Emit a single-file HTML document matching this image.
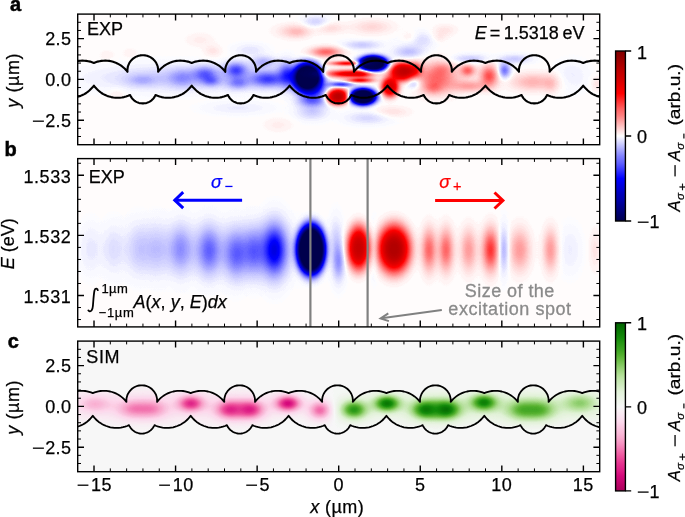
<!DOCTYPE html><html><head><meta charset="utf-8"><style>html,body{margin:0;padding:0;background:#fff;overflow:hidden}svg{display:block}text{font-family:"Liberation Sans",sans-serif}</style></head><body><svg width="685" height="517" viewBox="0 0 685 517"><defs><clipPath id="axa"><rect x="77.7" y="14.1" width="522" height="130.6"/></clipPath><clipPath id="axb"><rect x="77.7" y="158.6" width="522" height="168.3"/></clipPath><clipPath id="axc"><rect x="77.7" y="341.1" width="522" height="130.6"/></clipPath><clipPath id="wg"><polygon points="-102.9,393.1 -101.1,392.4 -99.2,391.8 -97.3,391.3 -95.4,391.0 -93.4,390.8 -91.4,390.8 -89.5,390.9 -87.5,391.1 -85.6,391.5 -83.7,392.0 -81.8,392.6 -80.0,393.4 -78.2,394.2 -76.5,395.2 -74.9,396.4 -73.4,397.6 -71.9,398.9 -70.6,400.4 -69.3,401.9 -69.4,400.2 -69.2,398.4 -68.9,396.7 -68.3,395.0 -67.6,393.4 -66.7,392.0 -65.6,390.6 -64.4,389.3 -63.0,388.2 -61.5,387.3 -60.0,386.5 -58.3,385.9 -56.6,385.5 -54.9,385.3 -53.1,385.3 -51.4,385.5 -49.7,385.9 -48.0,386.5 -46.5,387.3 -45.0,388.2 -43.6,389.3 -42.4,390.6 -41.3,392.0 -40.4,393.4 -39.7,395.0 -39.1,396.7 -38.8,398.4 -38.6,400.2 -38.7,401.9 -37.4,400.4 -36.1,398.9 -34.6,397.6 -33.1,396.4 -31.5,395.2 -29.8,394.2 -28.0,393.4 -26.2,392.6 -24.3,392.0 -22.4,391.5 -20.5,391.1 -18.5,390.9 -16.6,390.8 -14.6,390.8 -12.6,391.0 -10.7,391.3 -8.8,391.8 -6.9,392.4 -5.1,393.1 -3.2,392.4 -1.4,391.8 0.6,391.3 2.5,391.0 4.5,390.8 6.4,390.8 8.4,390.9 10.4,391.1 12.3,391.5 14.2,392.0 16.1,392.6 17.9,393.4 19.6,394.2 21.3,395.2 23.0,396.4 24.5,397.6 25.9,398.9 27.3,400.4 28.5,401.9 28.5,400.2 28.6,398.4 29.0,396.7 29.6,395.0 30.3,393.4 31.2,392.0 32.3,390.6 33.5,389.3 34.9,388.2 36.3,387.3 37.9,386.5 39.6,385.9 41.3,385.5 43.0,385.3 44.8,385.3 46.5,385.5 48.2,385.9 49.8,386.5 51.4,387.3 52.9,388.2 54.2,389.3 55.5,390.6 56.5,392.0 57.5,393.4 58.2,395.0 58.7,396.7 59.1,398.4 59.3,400.2 59.2,401.9 60.5,400.4 61.8,398.9 63.3,397.6 64.8,396.4 66.4,395.2 68.1,394.2 69.9,393.4 71.7,392.6 73.5,392.0 75.5,391.5 77.4,391.1 79.3,390.9 81.3,390.8 83.3,390.8 85.2,391.0 87.2,391.3 89.1,391.8 91.0,392.4 92.8,393.1 94.6,392.4 96.5,391.8 98.4,391.3 100.4,391.0 102.3,390.8 104.3,390.8 106.3,390.9 108.2,391.1 110.2,391.5 112.1,392.0 113.9,392.6 115.8,393.4 117.5,394.2 119.2,395.2 120.8,396.4 122.4,397.6 123.8,398.9 125.2,400.4 126.4,401.9 126.4,400.2 126.5,398.4 126.9,396.7 127.4,395.0 128.2,393.4 129.1,392.0 130.2,390.6 131.4,389.3 132.7,388.2 134.2,387.3 135.8,386.5 137.4,385.9 139.1,385.5 140.9,385.3 142.6,385.3 144.4,385.5 146.1,385.9 147.7,386.5 149.3,387.3 150.8,388.2 152.1,389.3 153.3,390.6 154.4,392.0 155.3,393.4 156.1,395.0 156.6,396.7 157.0,398.4 157.1,400.2 157.1,401.9 158.3,400.4 159.7,398.9 161.1,397.6 162.7,396.4 164.3,395.2 166.0,394.2 167.7,393.4 169.6,392.6 171.4,392.0 173.3,391.5 175.3,391.1 177.2,390.9 179.2,390.8 181.2,390.8 183.1,391.0 185.1,391.3 187.0,391.8 188.9,392.4 190.7,393.1 192.5,392.4 194.4,391.8 196.3,391.3 198.3,391.0 200.2,390.8 202.2,390.8 204.2,390.9 206.1,391.1 208.0,391.5 210.0,392.0 211.8,392.6 213.6,393.4 215.4,394.2 217.1,395.2 218.7,396.4 220.2,397.6 221.7,398.9 223.0,400.4 224.3,401.9 224.2,400.2 224.4,398.4 224.8,396.7 225.3,395.0 226.0,393.4 227.0,392.0 228.0,390.6 229.3,389.3 230.6,388.2 232.1,387.3 233.7,386.5 235.3,385.9 237.0,385.5 238.7,385.3 240.5,385.3 242.2,385.5 243.9,385.9 245.6,386.5 247.2,387.3 248.6,388.2 250.0,389.3 251.2,390.6 252.3,392.0 253.2,393.4 253.9,395.0 254.5,396.7 254.9,398.4 255.0,400.2 255.0,401.9 256.2,400.4 257.6,398.9 259.0,397.6 260.5,396.4 262.2,395.2 263.9,394.2 265.6,393.4 267.4,392.6 269.3,392.0 271.2,391.5 273.1,391.1 275.1,390.9 277.1,390.8 279.0,390.8 281.0,391.0 282.9,391.3 284.9,391.8 286.7,392.4 288.6,393.1 290.4,392.4 292.3,391.8 294.2,391.3 296.1,391.0 298.1,390.8 300.1,390.8 302.0,390.9 304.0,391.1 305.9,391.5 307.8,392.0 309.7,392.6 311.5,393.4 313.3,394.2 315.0,395.2 316.6,396.4 318.1,397.6 319.6,398.9 320.9,400.4 322.2,401.9 322.1,400.2 322.3,398.4 322.6,396.7 323.2,395.0 323.9,393.4 324.8,392.0 325.9,390.6 327.1,389.3 328.5,388.2 330.0,387.3 331.5,386.5 333.2,385.9 334.9,385.5 336.6,385.3 338.4,385.3 340.1,385.5 341.8,385.9 343.5,386.5 345.0,387.3 346.5,388.2 347.9,389.3 349.1,390.6 350.2,392.0 351.1,393.4 351.8,395.0 352.4,396.7 352.7,398.4 352.9,400.2 352.8,401.9 354.1,400.4 355.4,398.9 356.9,397.6 358.4,396.4 360.0,395.2 361.7,394.2 363.5,393.4 365.3,392.6 367.2,392.0 369.1,391.5 371.0,391.1 373.0,390.9 374.9,390.8 376.9,390.8 378.9,391.0 380.8,391.3 382.7,391.8 384.6,392.4 386.4,393.1 388.3,392.4 390.1,391.8 392.1,391.3 394.0,391.0 396.0,390.8 397.9,390.8 399.9,390.9 401.9,391.1 403.8,391.5 405.7,392.0 407.6,392.6 409.4,393.4 411.1,394.2 412.8,395.2 414.5,396.4 416.0,397.6 417.4,398.9 418.8,400.4 420.0,401.9 420.0,400.2 420.1,398.4 420.5,396.7 421.1,395.0 421.8,393.4 422.7,392.0 423.8,390.6 425.0,389.3 426.4,388.2 427.8,387.3 429.4,386.5 431.1,385.9 432.8,385.5 434.5,385.3 436.3,385.3 438.0,385.5 439.7,385.9 441.3,386.5 442.9,387.3 444.4,388.2 445.7,389.3 447.0,390.6 448.0,392.0 449.0,393.4 449.7,395.0 450.2,396.7 450.6,398.4 450.8,400.2 450.7,401.9 452.0,400.4 453.3,398.9 454.8,397.6 456.3,396.4 457.9,395.2 459.6,394.2 461.4,393.4 463.2,392.6 465.0,392.0 467.0,391.5 468.9,391.1 470.8,390.9 472.8,390.8 474.8,390.8 476.7,391.0 478.7,391.3 480.6,391.8 482.5,392.4 484.3,393.1 486.1,392.4 488.0,391.8 489.9,391.3 491.9,391.0 493.8,390.8 495.8,390.8 497.8,390.9 499.7,391.1 501.7,391.5 503.6,392.0 505.4,392.6 507.3,393.4 509.0,394.2 510.7,395.2 512.3,396.4 513.9,397.6 515.3,398.9 516.7,400.4 517.9,401.9 517.9,400.2 518.0,398.4 518.4,396.7 518.9,395.0 519.7,393.4 520.6,392.0 521.7,390.6 522.9,389.3 524.2,388.2 525.7,387.3 527.3,386.5 528.9,385.9 530.6,385.5 532.4,385.3 534.1,385.3 535.9,385.5 537.6,385.9 539.2,386.5 540.8,387.3 542.3,388.2 543.6,389.3 544.8,390.6 545.9,392.0 546.8,393.4 547.6,395.0 548.1,396.7 548.5,398.4 548.6,400.2 548.6,401.9 549.8,400.4 551.2,398.9 552.6,397.6 554.2,396.4 555.8,395.2 557.5,394.2 559.2,393.4 561.1,392.6 562.9,392.0 564.8,391.5 566.8,391.1 568.7,390.9 570.7,390.8 572.7,390.8 574.6,391.0 576.6,391.3 578.5,391.8 580.4,392.4 582.2,393.1 584.0,392.4 585.9,391.8 587.8,391.3 589.8,391.0 591.7,390.8 593.7,390.8 595.7,390.9 597.6,391.1 599.5,391.5 601.5,392.0 603.3,392.6 605.1,393.4 606.9,394.2 608.6,395.2 610.2,396.4 611.7,397.6 613.2,398.9 614.5,400.4 615.8,401.9 615.7,400.2 615.9,398.4 616.3,396.7 616.8,395.0 617.5,393.4 618.5,392.0 619.5,390.6 620.8,389.3 622.1,388.2 623.6,387.3 625.2,386.5 626.8,385.9 628.5,385.5 630.2,385.3 632.0,385.3 633.7,385.5 635.4,385.9 637.1,386.5 638.7,387.3 640.1,388.2 641.5,389.3 642.7,390.6 643.8,392.0 644.7,393.4 645.4,395.0 646.0,396.7 646.4,398.4 646.5,400.2 646.5,401.9 647.7,400.4 649.1,398.9 650.5,397.6 652.0,396.4 653.7,395.2 655.4,394.2 657.1,393.4 658.9,392.6 660.8,392.0 662.7,391.5 664.6,391.1 666.6,390.9 668.6,390.8 670.5,390.8 672.5,391.0 674.4,391.3 676.4,391.8 678.2,392.4 680.1,393.1 681.9,392.4 683.8,391.8 685.7,391.3 687.6,391.0 689.6,390.8 691.6,390.8 693.5,390.9 695.5,391.1 697.4,391.5 699.3,392.0 701.2,392.6 703.0,393.4 704.8,394.2 706.5,395.2 708.1,396.4 709.6,397.6 711.1,398.9 712.4,400.4 713.7,401.9 713.6,400.2 713.8,398.4 714.1,396.7 714.7,395.0 715.4,393.4 716.3,392.0 717.4,390.6 718.6,389.3 720.0,388.2 721.5,387.3 723.0,386.5 724.7,385.9 726.4,385.5 728.1,385.3 729.9,385.3 731.6,385.5 733.3,385.9 735.0,386.5 736.5,387.3 738.0,388.2 739.4,389.3 740.6,390.6 741.7,392.0 742.6,393.4 743.3,395.0 743.9,396.7 744.2,398.4 744.4,400.2 744.3,401.9 745.6,400.4 746.9,398.9 748.4,397.6 749.9,396.4 751.5,395.2 753.2,394.2 755.0,393.4 756.8,392.6 758.7,392.0 760.6,391.5 762.5,391.1 764.5,390.9 766.4,390.8 768.4,390.8 770.4,391.0 772.3,391.3 774.2,391.8 776.1,392.4 777.9,393.1 777.9,415.7 776.6,417.4 775.2,419.0 773.7,420.5 772.0,421.9 770.3,423.1 768.5,424.2 766.6,425.2 764.6,426.0 762.6,426.7 760.5,427.3 758.4,427.6 756.3,427.9 754.1,427.9 752.0,427.9 749.9,427.6 747.8,427.2 745.7,426.7 743.7,426.0 741.7,425.1 741.2,426.1 740.7,427.1 740.1,428.0 739.4,428.9 738.6,429.7 737.8,430.4 736.9,431.1 735.9,431.7 734.9,432.2 733.9,432.7 732.9,433.0 731.8,433.3 730.7,433.5 729.6,433.6 728.4,433.6 727.3,433.5 726.2,433.3 725.1,433.0 724.1,432.7 723.1,432.2 722.1,431.7 721.1,431.1 720.2,430.4 719.4,429.7 718.6,428.9 717.9,428.0 717.3,427.1 716.8,426.1 716.3,425.1 714.3,426.0 712.3,426.7 710.2,427.2 708.1,427.6 706.0,427.9 703.9,427.9 701.7,427.9 699.6,427.6 697.5,427.3 695.4,426.7 693.4,426.0 691.4,425.2 689.5,424.2 687.7,423.1 686.0,421.9 684.3,420.5 682.8,419.0 681.4,417.4 680.1,415.7 678.8,417.4 677.3,419.0 675.8,420.5 674.2,421.9 672.4,423.1 670.6,424.2 668.7,425.2 666.7,426.0 664.7,426.7 662.6,427.3 660.5,427.6 658.4,427.9 656.2,427.9 654.1,427.9 652.0,427.6 649.9,427.2 647.8,426.7 645.8,426.0 643.8,425.1 643.4,426.1 642.8,427.1 642.2,428.0 641.5,428.9 640.7,429.7 639.9,430.4 639.0,431.1 638.1,431.7 637.1,432.2 636.0,432.7 635.0,433.0 633.9,433.3 632.8,433.5 631.7,433.6 630.6,433.6 629.5,433.5 628.4,433.3 627.3,433.0 626.2,432.7 625.2,432.2 624.2,431.7 623.3,431.1 622.4,430.4 621.5,429.7 620.8,428.9 620.1,428.0 619.4,427.1 618.9,426.1 618.4,425.1 616.5,426.0 614.4,426.7 612.4,427.2 610.3,427.6 608.1,427.9 606.0,427.9 603.9,427.9 601.7,427.6 599.6,427.3 597.6,426.7 595.5,426.0 593.6,425.2 591.7,424.2 589.8,423.1 588.1,421.9 586.5,420.5 584.9,419.0 583.5,417.4 582.2,415.7 580.9,417.4 579.5,419.0 577.9,420.5 576.3,421.9 574.5,423.1 572.7,424.2 570.8,425.2 568.8,426.0 566.8,426.7 564.7,427.3 562.6,427.6 560.5,427.9 558.4,427.9 556.2,427.9 554.1,427.6 552.0,427.2 549.9,426.7 547.9,426.0 546.0,425.1 545.5,426.1 544.9,427.1 544.3,428.0 543.6,428.9 542.8,429.7 542.0,430.4 541.1,431.1 540.2,431.7 539.2,432.2 538.2,432.7 537.1,433.0 536.0,433.3 534.9,433.5 533.8,433.6 532.7,433.6 531.6,433.5 530.5,433.3 529.4,433.0 528.3,432.7 527.3,432.2 526.3,431.7 525.4,431.1 524.5,430.4 523.7,429.7 522.9,428.9 522.2,428.0 521.6,427.1 521.0,426.1 520.5,425.1 518.6,426.0 516.6,426.7 514.5,427.2 512.4,427.6 510.3,427.9 508.1,427.9 506.0,427.9 503.9,427.6 501.8,427.3 499.7,426.7 497.7,426.0 495.7,425.2 493.8,424.2 492.0,423.1 490.2,421.9 488.6,420.5 487.0,419.0 485.6,417.4 484.3,415.7 483.0,417.4 481.6,419.0 480.0,420.5 478.4,421.9 476.7,423.1 474.8,424.2 472.9,425.2 471.0,426.0 468.9,426.7 466.9,427.3 464.8,427.6 462.6,427.9 460.5,427.9 458.4,427.9 456.2,427.6 454.1,427.2 452.1,426.7 450.0,426.0 448.1,425.1 447.6,426.1 447.1,427.1 446.4,428.0 445.7,428.9 445.0,429.7 444.1,430.4 443.2,431.1 442.3,431.7 441.3,432.2 440.3,432.7 439.2,433.0 438.1,433.3 437.0,433.5 435.9,433.6 434.8,433.6 433.7,433.5 432.6,433.3 431.5,433.0 430.5,432.7 429.4,432.2 428.4,431.7 427.5,431.1 426.6,430.4 425.8,429.7 425.0,428.9 424.3,428.0 423.7,427.1 423.1,426.1 422.7,425.1 420.7,426.0 418.7,426.7 416.6,427.2 414.5,427.6 412.4,427.9 410.3,427.9 408.1,427.9 406.0,427.6 403.9,427.3 401.8,426.7 399.8,426.0 397.8,425.2 395.9,424.2 394.1,423.1 392.3,421.9 390.7,420.5 389.2,419.0 387.7,417.4 386.4,415.7 385.1,417.4 383.7,419.0 382.2,420.5 380.5,421.9 378.8,423.1 377.0,424.2 375.1,425.2 373.1,426.0 371.1,426.7 369.0,427.3 366.9,427.6 364.8,427.9 362.6,427.9 360.5,427.9 358.4,427.6 356.3,427.2 354.2,426.7 352.2,426.0 350.2,425.1 349.7,426.1 349.2,427.1 348.6,428.0 347.9,428.9 347.1,429.7 346.3,430.4 345.4,431.1 344.4,431.7 343.4,432.2 342.4,432.7 341.4,433.0 340.3,433.3 339.2,433.5 338.1,433.6 336.9,433.6 335.8,433.5 334.7,433.3 333.6,433.0 332.6,432.7 331.6,432.2 330.6,431.7 329.6,431.1 328.7,430.4 327.9,429.7 327.1,428.9 326.4,428.0 325.8,427.1 325.3,426.1 324.8,425.1 322.8,426.0 320.8,426.7 318.7,427.2 316.6,427.6 314.5,427.9 312.4,427.9 310.2,427.9 308.1,427.6 306.0,427.3 303.9,426.7 301.9,426.0 299.9,425.2 298.0,424.2 296.2,423.1 294.5,421.9 292.8,420.5 291.3,419.0 289.9,417.4 288.6,415.7 287.3,417.4 285.8,419.0 284.3,420.5 282.7,421.9 280.9,423.1 279.1,424.2 277.2,425.2 275.2,426.0 273.2,426.7 271.1,427.3 269.0,427.6 266.9,427.9 264.7,427.9 262.6,427.9 260.5,427.6 258.4,427.2 256.3,426.7 254.3,426.0 252.3,425.1 251.9,426.1 251.3,427.1 250.7,428.0 250.0,428.9 249.2,429.7 248.4,430.4 247.5,431.1 246.6,431.7 245.6,432.2 244.5,432.7 243.5,433.0 242.4,433.3 241.3,433.5 240.2,433.6 239.1,433.6 238.0,433.5 236.9,433.3 235.8,433.0 234.7,432.7 233.7,432.2 232.7,431.7 231.8,431.1 230.9,430.4 230.0,429.7 229.3,428.9 228.6,428.0 227.9,427.1 227.4,426.1 226.9,425.1 225.0,426.0 222.9,426.7 220.9,427.2 218.8,427.6 216.6,427.9 214.5,427.9 212.4,427.9 210.2,427.6 208.1,427.3 206.1,426.7 204.0,426.0 202.1,425.2 200.2,424.2 198.3,423.1 196.6,421.9 195.0,420.5 193.4,419.0 192.0,417.4 190.7,415.7 189.4,417.4 188.0,419.0 186.4,420.5 184.8,421.9 183.0,423.1 181.2,424.2 179.3,425.2 177.3,426.0 175.3,426.7 173.2,427.3 171.1,427.6 169.0,427.9 166.9,427.9 164.7,427.9 162.6,427.6 160.5,427.2 158.4,426.7 156.4,426.0 154.5,425.1 154.0,426.1 153.4,427.1 152.8,428.0 152.1,428.9 151.3,429.7 150.5,430.4 149.6,431.1 148.7,431.7 147.7,432.2 146.7,432.7 145.6,433.0 144.5,433.3 143.4,433.5 142.3,433.6 141.2,433.6 140.1,433.5 139.0,433.3 137.9,433.0 136.8,432.7 135.8,432.2 134.8,431.7 133.9,431.1 133.0,430.4 132.2,429.7 131.4,428.9 130.7,428.0 130.1,427.1 129.5,426.1 129.0,425.1 127.1,426.0 125.1,426.7 123.0,427.2 120.9,427.6 118.8,427.9 116.6,427.9 114.5,427.9 112.4,427.6 110.3,427.3 108.2,426.7 106.2,426.0 104.2,425.2 102.3,424.2 100.5,423.1 98.7,421.9 97.1,420.5 95.5,419.0 94.1,417.4 92.8,415.7 91.5,417.4 90.1,419.0 88.5,420.5 86.9,421.9 85.2,423.1 83.3,424.2 81.4,425.2 79.5,426.0 77.4,426.7 75.4,427.3 73.3,427.6 71.1,427.9 69.0,427.9 66.9,427.9 64.7,427.6 62.6,427.2 60.6,426.7 58.5,426.0 56.6,425.1 56.1,426.1 55.6,427.1 54.9,428.0 54.2,428.9 53.5,429.7 52.6,430.4 51.7,431.1 50.8,431.7 49.8,432.2 48.8,432.7 47.7,433.0 46.6,433.3 45.5,433.5 44.4,433.6 43.3,433.6 42.2,433.5 41.1,433.3 40.0,433.0 39.0,432.7 37.9,432.2 36.9,431.7 36.0,431.1 35.1,430.4 34.3,429.7 33.5,428.9 32.8,428.0 32.2,427.1 31.6,426.1 31.2,425.1 29.2,426.0 27.2,426.7 25.1,427.2 23.0,427.6 20.9,427.9 18.8,427.9 16.6,427.9 14.5,427.6 12.4,427.3 10.3,426.7 8.3,426.0 6.3,425.2 4.4,424.2 2.6,423.1 0.8,421.9 -0.8,420.5 -2.3,419.0 -3.8,417.4 -5.1,415.7 -6.4,417.4 -7.8,419.0 -9.3,420.5 -11.0,421.9 -12.7,423.1 -14.5,424.2 -16.4,425.2 -18.4,426.0 -20.4,426.7 -22.5,427.3 -24.6,427.6 -26.7,427.9 -28.9,427.9 -31.0,427.9 -33.1,427.6 -35.2,427.2 -37.3,426.7 -39.3,426.0 -41.3,425.1 -41.8,426.1 -42.3,427.1 -42.9,428.0 -43.6,428.9 -44.4,429.7 -45.2,430.4 -46.1,431.1 -47.1,431.7 -48.1,432.2 -49.1,432.7 -50.1,433.0 -51.2,433.3 -52.3,433.5 -53.4,433.6 -54.6,433.6 -55.7,433.5 -56.8,433.3 -57.9,433.0 -58.9,432.7 -59.9,432.2 -60.9,431.7 -61.9,431.1 -62.8,430.4 -63.6,429.7 -64.4,428.9 -65.1,428.0 -65.7,427.1 -66.2,426.1 -66.7,425.1 -68.7,426.0 -70.7,426.7 -72.8,427.2 -74.9,427.6 -77.0,427.9 -79.1,427.9 -81.3,427.9 -83.4,427.6 -85.5,427.3 -87.6,426.7 -89.6,426.0 -91.6,425.2 -93.5,424.2 -95.3,423.1 -97.0,421.9 -98.7,420.5 -100.2,419.0 -101.6,417.4 -102.9,415.7"/></clipPath><filter id="fa" filterUnits="userSpaceOnUse" x="77.7" y="14.1" width="522" height="130.6" color-interpolation-filters="sRGB"><feColorMatrix type="matrix" values="0.5 0 -0.5 0 0.5 0.5 0 -0.5 0 0.5 0.5 0 -0.5 0 0.5 0 0 0 0 1"/><feComponentTransfer><feFuncR type="table" tableValues="0 0 0 0 0 0 0 0 0 0 0 0 0 0 0 0 0 0 0 0 0 0 0 0 0 0 0 0 0 0 0 0 0 0 0 0 0 0 0 0 0 0 0 0 0 0 0 0 0 0 0 0 0 0 0 0 0 0 0 0 0 0 0 0 0 0.02 0.04 0.05 0.07 0.08 0.1 0.11 0.13 0.15 0.16 0.18 0.19 0.21 0.22 0.24 0.25 0.27 0.29 0.3 0.32 0.33 0.35 0.36 0.38 0.4 0.41 0.43 0.44 0.46 0.47 0.49 0.51 0.52 0.54 0.55 0.57 0.58 0.6 0.62 0.63 0.65 0.66 0.68 0.69 0.71 0.73 0.74 0.76 0.77 0.79 0.8 0.82 0.84 0.85 0.87 0.88 0.9 0.91 0.93 0.95 0.96 0.98 0.99 1 1 1 1 1 1 1 1 1 1 1 1 1 1 1 1 1 1 1 1 1 1 1 1 1 1 1 1 1 1 1 1 1 1 1 1 1 1 1 1 1 1 1 1 1 1 1 1 1 1 1 1 1 1 1 1 1 1 1 1 1 1 1 1 0.99 0.99 0.98 0.97 0.96 0.95 0.95 0.94 0.93 0.92 0.92 0.91 0.9 0.89 0.88 0.88 0.87 0.86 0.85 0.85 0.84 0.83 0.82 0.81 0.81 0.8 0.79 0.78 0.77 0.77 0.76 0.75 0.74 0.74 0.73 0.72 0.71 0.7 0.7 0.69 0.68 0.67 0.66 0.66 0.65 0.64 0.63 0.63 0.62 0.61 0.6 0.59 0.59 0.58 0.57 0.56 0.55 0.55 0.54 0.53 0.52 0.52 0.51 0.5"/><feFuncG type="table" tableValues="0 0 0 0 0 0 0 0 0 0 0 0 0 0 0 0 0 0 0 0 0 0 0 0 0 0 0 0 0 0 0 0 0 0 0 0 0 0 0 0 0 0 0 0 0 0 0 0 0 0 0 0 0 0 0 0 0 0 0 0 0 0 0 0 0 0.02 0.04 0.05 0.07 0.08 0.1 0.11 0.13 0.15 0.16 0.18 0.19 0.21 0.22 0.24 0.25 0.27 0.29 0.3 0.32 0.33 0.35 0.36 0.38 0.4 0.41 0.43 0.44 0.46 0.47 0.49 0.51 0.52 0.54 0.55 0.57 0.58 0.6 0.62 0.63 0.65 0.66 0.68 0.69 0.71 0.73 0.74 0.76 0.77 0.79 0.8 0.82 0.84 0.85 0.87 0.88 0.9 0.91 0.93 0.95 0.96 0.98 0.99 0.99 0.98 0.96 0.95 0.93 0.91 0.9 0.88 0.87 0.85 0.84 0.82 0.8 0.79 0.77 0.76 0.74 0.73 0.71 0.69 0.68 0.66 0.65 0.63 0.62 0.6 0.58 0.57 0.55 0.54 0.52 0.51 0.49 0.47 0.46 0.44 0.43 0.41 0.4 0.38 0.36 0.35 0.33 0.32 0.3 0.29 0.27 0.25 0.24 0.22 0.21 0.19 0.18 0.16 0.15 0.13 0.11 0.1 0.08 0.07 0.05 0.04 0.02 0 0 0 0 0 0 0 0 0 0 0 0 0 0 0 0 0 0 0 0 0 0 0 0 0 0 0 0 0 0 0 0 0 0 0 0 0 0 0 0 0 0 0 0 0 0 0 0 0 0 0 0 0 0 0 0 0 0 0 0 0 0 0 0 0"/><feFuncB type="table" tableValues="0.3 0.31 0.32 0.33 0.34 0.35 0.37 0.38 0.39 0.4 0.41 0.42 0.43 0.44 0.45 0.46 0.48 0.49 0.5 0.51 0.52 0.53 0.54 0.55 0.56 0.57 0.59 0.6 0.61 0.62 0.63 0.64 0.65 0.66 0.67 0.68 0.7 0.71 0.72 0.73 0.74 0.75 0.76 0.77 0.78 0.79 0.81 0.82 0.83 0.84 0.85 0.86 0.87 0.88 0.89 0.9 0.91 0.93 0.94 0.95 0.96 0.97 0.98 0.99 1 1 1 1 1 1 1 1 1 1 1 1 1 1 1 1 1 1 1 1 1 1 1 1 1 1 1 1 1 1 1 1 1 1 1 1 1 1 1 1 1 1 1 1 1 1 1 1 1 1 1 1 1 1 1 1 1 1 1 1 1 1 1 1 0.99 0.98 0.96 0.95 0.93 0.91 0.9 0.88 0.87 0.85 0.84 0.82 0.8 0.79 0.77 0.76 0.74 0.73 0.71 0.69 0.68 0.66 0.65 0.63 0.62 0.6 0.58 0.57 0.55 0.54 0.52 0.51 0.49 0.47 0.46 0.44 0.43 0.41 0.4 0.38 0.36 0.35 0.33 0.32 0.3 0.29 0.27 0.25 0.24 0.22 0.21 0.19 0.18 0.16 0.15 0.13 0.11 0.1 0.08 0.07 0.05 0.04 0.02 0 0 0 0 0 0 0 0 0 0 0 0 0 0 0 0 0 0 0 0 0 0 0 0 0 0 0 0 0 0 0 0 0 0 0 0 0 0 0 0 0 0 0 0 0 0 0 0 0 0 0 0 0 0 0 0 0 0 0 0 0 0 0 0 0"/></feComponentTransfer></filter><radialGradient id="g0"><stop offset="0.000" stop-color="#00f" stop-opacity="1.000"/><stop offset="0.036" stop-color="#00f" stop-opacity="0.993"/><stop offset="0.071" stop-color="#00f" stop-opacity="0.972"/><stop offset="0.107" stop-color="#00f" stop-opacity="0.939"/><stop offset="0.143" stop-color="#00f" stop-opacity="0.893"/><stop offset="0.179" stop-color="#00f" stop-opacity="0.839"/><stop offset="0.214" stop-color="#00f" stop-opacity="0.776"/><stop offset="0.250" stop-color="#00f" stop-opacity="0.708"/><stop offset="0.286" stop-color="#00f" stop-opacity="0.637"/><stop offset="0.321" stop-color="#00f" stop-opacity="0.565"/><stop offset="0.357" stop-color="#00f" stop-opacity="0.494"/><stop offset="0.393" stop-color="#00f" stop-opacity="0.426"/><stop offset="0.429" stop-color="#00f" stop-opacity="0.363"/><stop offset="0.464" stop-color="#00f" stop-opacity="0.304"/><stop offset="0.500" stop-color="#00f" stop-opacity="0.251"/><stop offset="0.536" stop-color="#00f" stop-opacity="0.205"/><stop offset="0.571" stop-color="#00f" stop-opacity="0.165"/><stop offset="0.607" stop-color="#00f" stop-opacity="0.131"/><stop offset="0.643" stop-color="#00f" stop-opacity="0.102"/><stop offset="0.679" stop-color="#00f" stop-opacity="0.079"/><stop offset="0.714" stop-color="#00f" stop-opacity="0.060"/><stop offset="0.750" stop-color="#00f" stop-opacity="0.045"/><stop offset="0.786" stop-color="#00f" stop-opacity="0.033"/><stop offset="0.821" stop-color="#00f" stop-opacity="0.024"/><stop offset="0.857" stop-color="#00f" stop-opacity="0.017"/><stop offset="0.893" stop-color="#00f" stop-opacity="0.012"/><stop offset="0.929" stop-color="#00f" stop-opacity="0.009"/><stop offset="0.964" stop-color="#00f" stop-opacity="0.006"/><stop offset="1.000" stop-color="#00f" stop-opacity="0.004"/></radialGradient><radialGradient id="g1"><stop offset="0.000" stop-color="#00f" stop-opacity="1.000"/><stop offset="0.036" stop-color="#00f" stop-opacity="1.000"/><stop offset="0.071" stop-color="#00f" stop-opacity="1.000"/><stop offset="0.107" stop-color="#00f" stop-opacity="1.000"/><stop offset="0.143" stop-color="#00f" stop-opacity="1.000"/><stop offset="0.179" stop-color="#00f" stop-opacity="1.000"/><stop offset="0.214" stop-color="#00f" stop-opacity="1.000"/><stop offset="0.250" stop-color="#00f" stop-opacity="1.000"/><stop offset="0.286" stop-color="#00f" stop-opacity="1.000"/><stop offset="0.321" stop-color="#00f" stop-opacity="1.000"/><stop offset="0.357" stop-color="#00f" stop-opacity="1.000"/><stop offset="0.393" stop-color="#00f" stop-opacity="1.000"/><stop offset="0.429" stop-color="#00f" stop-opacity="0.998"/><stop offset="0.464" stop-color="#00f" stop-opacity="0.878"/><stop offset="0.500" stop-color="#00f" stop-opacity="0.757"/><stop offset="0.536" stop-color="#00f" stop-opacity="0.637"/><stop offset="0.571" stop-color="#00f" stop-opacity="0.523"/><stop offset="0.607" stop-color="#00f" stop-opacity="0.419"/><stop offset="0.643" stop-color="#00f" stop-opacity="0.326"/><stop offset="0.679" stop-color="#00f" stop-opacity="0.246"/><stop offset="0.714" stop-color="#00f" stop-opacity="0.180"/><stop offset="0.750" stop-color="#00f" stop-opacity="0.128"/><stop offset="0.786" stop-color="#00f" stop-opacity="0.087"/><stop offset="0.821" stop-color="#00f" stop-opacity="0.058"/><stop offset="0.857" stop-color="#00f" stop-opacity="0.037"/><stop offset="0.893" stop-color="#00f" stop-opacity="0.022"/><stop offset="0.929" stop-color="#00f" stop-opacity="0.013"/><stop offset="0.964" stop-color="#00f" stop-opacity="0.007"/><stop offset="1.000" stop-color="#00f" stop-opacity="0.004"/></radialGradient><radialGradient id="g2"><stop offset="0.000" stop-color="#f00" stop-opacity="1.000"/><stop offset="0.036" stop-color="#f00" stop-opacity="0.993"/><stop offset="0.071" stop-color="#f00" stop-opacity="0.972"/><stop offset="0.107" stop-color="#f00" stop-opacity="0.939"/><stop offset="0.143" stop-color="#f00" stop-opacity="0.893"/><stop offset="0.179" stop-color="#f00" stop-opacity="0.839"/><stop offset="0.214" stop-color="#f00" stop-opacity="0.776"/><stop offset="0.250" stop-color="#f00" stop-opacity="0.708"/><stop offset="0.286" stop-color="#f00" stop-opacity="0.637"/><stop offset="0.321" stop-color="#f00" stop-opacity="0.565"/><stop offset="0.357" stop-color="#f00" stop-opacity="0.494"/><stop offset="0.393" stop-color="#f00" stop-opacity="0.426"/><stop offset="0.429" stop-color="#f00" stop-opacity="0.363"/><stop offset="0.464" stop-color="#f00" stop-opacity="0.304"/><stop offset="0.500" stop-color="#f00" stop-opacity="0.251"/><stop offset="0.536" stop-color="#f00" stop-opacity="0.205"/><stop offset="0.571" stop-color="#f00" stop-opacity="0.165"/><stop offset="0.607" stop-color="#f00" stop-opacity="0.131"/><stop offset="0.643" stop-color="#f00" stop-opacity="0.102"/><stop offset="0.679" stop-color="#f00" stop-opacity="0.079"/><stop offset="0.714" stop-color="#f00" stop-opacity="0.060"/><stop offset="0.750" stop-color="#f00" stop-opacity="0.045"/><stop offset="0.786" stop-color="#f00" stop-opacity="0.033"/><stop offset="0.821" stop-color="#f00" stop-opacity="0.024"/><stop offset="0.857" stop-color="#f00" stop-opacity="0.017"/><stop offset="0.893" stop-color="#f00" stop-opacity="0.012"/><stop offset="0.929" stop-color="#f00" stop-opacity="0.009"/><stop offset="0.964" stop-color="#f00" stop-opacity="0.006"/><stop offset="1.000" stop-color="#f00" stop-opacity="0.004"/></radialGradient><radialGradient id="g3"><stop offset="0.000" stop-color="#00f" stop-opacity="1.000"/><stop offset="0.036" stop-color="#00f" stop-opacity="1.000"/><stop offset="0.071" stop-color="#00f" stop-opacity="1.000"/><stop offset="0.107" stop-color="#00f" stop-opacity="1.000"/><stop offset="0.143" stop-color="#00f" stop-opacity="1.000"/><stop offset="0.179" stop-color="#00f" stop-opacity="1.000"/><stop offset="0.214" stop-color="#00f" stop-opacity="1.000"/><stop offset="0.250" stop-color="#00f" stop-opacity="1.000"/><stop offset="0.286" stop-color="#00f" stop-opacity="1.000"/><stop offset="0.321" stop-color="#00f" stop-opacity="1.000"/><stop offset="0.357" stop-color="#00f" stop-opacity="1.000"/><stop offset="0.393" stop-color="#00f" stop-opacity="1.000"/><stop offset="0.429" stop-color="#00f" stop-opacity="0.941"/><stop offset="0.464" stop-color="#00f" stop-opacity="0.829"/><stop offset="0.500" stop-color="#00f" stop-opacity="0.715"/><stop offset="0.536" stop-color="#00f" stop-opacity="0.603"/><stop offset="0.571" stop-color="#00f" stop-opacity="0.496"/><stop offset="0.607" stop-color="#00f" stop-opacity="0.398"/><stop offset="0.643" stop-color="#00f" stop-opacity="0.311"/><stop offset="0.679" stop-color="#00f" stop-opacity="0.235"/><stop offset="0.714" stop-color="#00f" stop-opacity="0.173"/><stop offset="0.750" stop-color="#00f" stop-opacity="0.123"/><stop offset="0.786" stop-color="#00f" stop-opacity="0.085"/><stop offset="0.821" stop-color="#00f" stop-opacity="0.056"/><stop offset="0.857" stop-color="#00f" stop-opacity="0.036"/><stop offset="0.893" stop-color="#00f" stop-opacity="0.022"/><stop offset="0.929" stop-color="#00f" stop-opacity="0.013"/><stop offset="0.964" stop-color="#00f" stop-opacity="0.007"/><stop offset="1.000" stop-color="#00f" stop-opacity="0.004"/></radialGradient><radialGradient id="g4"><stop offset="0.000" stop-color="#f00" stop-opacity="1.000"/><stop offset="0.036" stop-color="#f00" stop-opacity="1.000"/><stop offset="0.071" stop-color="#f00" stop-opacity="0.998"/><stop offset="0.107" stop-color="#f00" stop-opacity="0.993"/><stop offset="0.143" stop-color="#f00" stop-opacity="0.984"/><stop offset="0.179" stop-color="#f00" stop-opacity="0.969"/><stop offset="0.214" stop-color="#f00" stop-opacity="0.947"/><stop offset="0.250" stop-color="#f00" stop-opacity="0.917"/><stop offset="0.286" stop-color="#f00" stop-opacity="0.879"/><stop offset="0.321" stop-color="#f00" stop-opacity="0.832"/><stop offset="0.357" stop-color="#f00" stop-opacity="0.778"/><stop offset="0.393" stop-color="#f00" stop-opacity="0.715"/><stop offset="0.429" stop-color="#f00" stop-opacity="0.648"/><stop offset="0.464" stop-color="#f00" stop-opacity="0.575"/><stop offset="0.500" stop-color="#f00" stop-opacity="0.501"/><stop offset="0.536" stop-color="#f00" stop-opacity="0.428"/><stop offset="0.571" stop-color="#f00" stop-opacity="0.357"/><stop offset="0.607" stop-color="#f00" stop-opacity="0.291"/><stop offset="0.643" stop-color="#f00" stop-opacity="0.231"/><stop offset="0.679" stop-color="#f00" stop-opacity="0.178"/><stop offset="0.714" stop-color="#f00" stop-opacity="0.134"/><stop offset="0.750" stop-color="#f00" stop-opacity="0.097"/><stop offset="0.786" stop-color="#f00" stop-opacity="0.069"/><stop offset="0.821" stop-color="#f00" stop-opacity="0.047"/><stop offset="0.857" stop-color="#f00" stop-opacity="0.031"/><stop offset="0.893" stop-color="#f00" stop-opacity="0.020"/><stop offset="0.929" stop-color="#f00" stop-opacity="0.012"/><stop offset="0.964" stop-color="#f00" stop-opacity="0.007"/><stop offset="1.000" stop-color="#f00" stop-opacity="0.004"/></radialGradient><filter id="fb" filterUnits="userSpaceOnUse" x="77.7" y="158.6" width="522" height="168.3" color-interpolation-filters="sRGB"><feColorMatrix type="matrix" values="0.5 0 -0.5 0 0.5 0.5 0 -0.5 0 0.5 0.5 0 -0.5 0 0.5 0 0 0 0 1"/><feComponentTransfer><feFuncR type="table" tableValues="0 0 0 0 0 0 0 0 0 0 0 0 0 0 0 0 0 0 0 0 0 0 0 0 0 0 0 0 0 0 0 0 0 0 0 0 0 0 0 0 0 0 0 0 0 0 0 0 0 0 0 0 0 0 0 0 0 0 0 0 0 0 0 0 0 0.02 0.04 0.05 0.07 0.08 0.1 0.11 0.13 0.15 0.16 0.18 0.19 0.21 0.22 0.24 0.25 0.27 0.29 0.3 0.32 0.33 0.35 0.36 0.38 0.4 0.41 0.43 0.44 0.46 0.47 0.49 0.51 0.52 0.54 0.55 0.57 0.58 0.6 0.62 0.63 0.65 0.66 0.68 0.69 0.71 0.73 0.74 0.76 0.77 0.79 0.8 0.82 0.84 0.85 0.87 0.88 0.9 0.91 0.93 0.95 0.96 0.98 0.99 1 1 1 1 1 1 1 1 1 1 1 1 1 1 1 1 1 1 1 1 1 1 1 1 1 1 1 1 1 1 1 1 1 1 1 1 1 1 1 1 1 1 1 1 1 1 1 1 1 1 1 1 1 1 1 1 1 1 1 1 1 1 1 1 0.99 0.99 0.98 0.97 0.96 0.95 0.95 0.94 0.93 0.92 0.92 0.91 0.9 0.89 0.88 0.88 0.87 0.86 0.85 0.85 0.84 0.83 0.82 0.81 0.81 0.8 0.79 0.78 0.77 0.77 0.76 0.75 0.74 0.74 0.73 0.72 0.71 0.7 0.7 0.69 0.68 0.67 0.66 0.66 0.65 0.64 0.63 0.63 0.62 0.61 0.6 0.59 0.59 0.58 0.57 0.56 0.55 0.55 0.54 0.53 0.52 0.52 0.51 0.5"/><feFuncG type="table" tableValues="0 0 0 0 0 0 0 0 0 0 0 0 0 0 0 0 0 0 0 0 0 0 0 0 0 0 0 0 0 0 0 0 0 0 0 0 0 0 0 0 0 0 0 0 0 0 0 0 0 0 0 0 0 0 0 0 0 0 0 0 0 0 0 0 0 0.02 0.04 0.05 0.07 0.08 0.1 0.11 0.13 0.15 0.16 0.18 0.19 0.21 0.22 0.24 0.25 0.27 0.29 0.3 0.32 0.33 0.35 0.36 0.38 0.4 0.41 0.43 0.44 0.46 0.47 0.49 0.51 0.52 0.54 0.55 0.57 0.58 0.6 0.62 0.63 0.65 0.66 0.68 0.69 0.71 0.73 0.74 0.76 0.77 0.79 0.8 0.82 0.84 0.85 0.87 0.88 0.9 0.91 0.93 0.95 0.96 0.98 0.99 0.99 0.98 0.96 0.95 0.93 0.91 0.9 0.88 0.87 0.85 0.84 0.82 0.8 0.79 0.77 0.76 0.74 0.73 0.71 0.69 0.68 0.66 0.65 0.63 0.62 0.6 0.58 0.57 0.55 0.54 0.52 0.51 0.49 0.47 0.46 0.44 0.43 0.41 0.4 0.38 0.36 0.35 0.33 0.32 0.3 0.29 0.27 0.25 0.24 0.22 0.21 0.19 0.18 0.16 0.15 0.13 0.11 0.1 0.08 0.07 0.05 0.04 0.02 0 0 0 0 0 0 0 0 0 0 0 0 0 0 0 0 0 0 0 0 0 0 0 0 0 0 0 0 0 0 0 0 0 0 0 0 0 0 0 0 0 0 0 0 0 0 0 0 0 0 0 0 0 0 0 0 0 0 0 0 0 0 0 0 0"/><feFuncB type="table" tableValues="0.3 0.31 0.32 0.33 0.34 0.35 0.37 0.38 0.39 0.4 0.41 0.42 0.43 0.44 0.45 0.46 0.48 0.49 0.5 0.51 0.52 0.53 0.54 0.55 0.56 0.57 0.59 0.6 0.61 0.62 0.63 0.64 0.65 0.66 0.67 0.68 0.7 0.71 0.72 0.73 0.74 0.75 0.76 0.77 0.78 0.79 0.81 0.82 0.83 0.84 0.85 0.86 0.87 0.88 0.89 0.9 0.91 0.93 0.94 0.95 0.96 0.97 0.98 0.99 1 1 1 1 1 1 1 1 1 1 1 1 1 1 1 1 1 1 1 1 1 1 1 1 1 1 1 1 1 1 1 1 1 1 1 1 1 1 1 1 1 1 1 1 1 1 1 1 1 1 1 1 1 1 1 1 1 1 1 1 1 1 1 1 0.99 0.98 0.96 0.95 0.93 0.91 0.9 0.88 0.87 0.85 0.84 0.82 0.8 0.79 0.77 0.76 0.74 0.73 0.71 0.69 0.68 0.66 0.65 0.63 0.62 0.6 0.58 0.57 0.55 0.54 0.52 0.51 0.49 0.47 0.46 0.44 0.43 0.41 0.4 0.38 0.36 0.35 0.33 0.32 0.3 0.29 0.27 0.25 0.24 0.22 0.21 0.19 0.18 0.16 0.15 0.13 0.11 0.1 0.08 0.07 0.05 0.04 0.02 0 0 0 0 0 0 0 0 0 0 0 0 0 0 0 0 0 0 0 0 0 0 0 0 0 0 0 0 0 0 0 0 0 0 0 0 0 0 0 0 0 0 0 0 0 0 0 0 0 0 0 0 0 0 0 0 0 0 0 0 0 0 0 0 0"/></feComponentTransfer></filter><radialGradient id="g5"><stop offset="0.000" stop-color="#00f" stop-opacity="1.000"/><stop offset="0.036" stop-color="#00f" stop-opacity="1.000"/><stop offset="0.071" stop-color="#00f" stop-opacity="1.000"/><stop offset="0.107" stop-color="#00f" stop-opacity="1.000"/><stop offset="0.143" stop-color="#00f" stop-opacity="1.000"/><stop offset="0.179" stop-color="#00f" stop-opacity="1.000"/><stop offset="0.214" stop-color="#00f" stop-opacity="1.000"/><stop offset="0.250" stop-color="#00f" stop-opacity="1.000"/><stop offset="0.286" stop-color="#00f" stop-opacity="1.000"/><stop offset="0.321" stop-color="#00f" stop-opacity="1.000"/><stop offset="0.357" stop-color="#00f" stop-opacity="1.000"/><stop offset="0.393" stop-color="#00f" stop-opacity="1.000"/><stop offset="0.429" stop-color="#00f" stop-opacity="1.000"/><stop offset="0.464" stop-color="#00f" stop-opacity="1.000"/><stop offset="0.500" stop-color="#00f" stop-opacity="1.000"/><stop offset="0.536" stop-color="#00f" stop-opacity="0.921"/><stop offset="0.571" stop-color="#00f" stop-opacity="0.797"/><stop offset="0.607" stop-color="#00f" stop-opacity="0.670"/><stop offset="0.643" stop-color="#00f" stop-opacity="0.545"/><stop offset="0.679" stop-color="#00f" stop-opacity="0.427"/><stop offset="0.714" stop-color="#00f" stop-opacity="0.321"/><stop offset="0.750" stop-color="#00f" stop-opacity="0.230"/><stop offset="0.786" stop-color="#00f" stop-opacity="0.157"/><stop offset="0.821" stop-color="#00f" stop-opacity="0.101"/><stop offset="0.857" stop-color="#00f" stop-opacity="0.061"/><stop offset="0.893" stop-color="#00f" stop-opacity="0.035"/><stop offset="0.929" stop-color="#00f" stop-opacity="0.018"/><stop offset="0.964" stop-color="#00f" stop-opacity="0.009"/><stop offset="1.000" stop-color="#00f" stop-opacity="0.004"/></radialGradient><filter id="fc" filterUnits="userSpaceOnUse" x="77.7" y="341.1" width="522" height="130.6" color-interpolation-filters="sRGB"><feColorMatrix type="matrix" values="0.5 0 -0.5 0 0.5 0.5 0 -0.5 0 0.5 0.5 0 -0.5 0 0.5 0 0 0 0 1"/><feComponentTransfer><feFuncR type="table" tableValues="0.67 0.67 0.68 0.69 0.69 0.7 0.71 0.72 0.72 0.73 0.74 0.74 0.75 0.76 0.76 0.77 0.78 0.78 0.79 0.8 0.81 0.81 0.82 0.83 0.83 0.84 0.84 0.85 0.85 0.86 0.86 0.86 0.87 0.87 0.87 0.88 0.88 0.88 0.89 0.89 0.89 0.9 0.9 0.91 0.91 0.91 0.92 0.92 0.92 0.93 0.93 0.93 0.93 0.94 0.94 0.94 0.94 0.94 0.94 0.95 0.95 0.95 0.95 0.95 0.95 0.95 0.96 0.96 0.96 0.96 0.96 0.96 0.97 0.97 0.97 0.97 0.97 0.97 0.97 0.97 0.97 0.98 0.98 0.98 0.98 0.98 0.98 0.98 0.98 0.98 0.98 0.98 0.98 0.98 0.98 0.98 0.98 0.99 0.99 0.99 0.99 0.99 0.99 0.99 0.99 0.99 0.99 0.98 0.98 0.98 0.98 0.98 0.98 0.98 0.98 0.98 0.98 0.98 0.98 0.98 0.97 0.97 0.97 0.97 0.97 0.97 0.97 0.97 0.97 0.96 0.96 0.96 0.95 0.95 0.95 0.94 0.94 0.94 0.93 0.93 0.93 0.92 0.92 0.92 0.91 0.91 0.91 0.9 0.9 0.9 0.89 0.89 0.89 0.88 0.87 0.87 0.86 0.85 0.84 0.83 0.82 0.81 0.81 0.8 0.79 0.78 0.77 0.76 0.76 0.75 0.74 0.73 0.72 0.71 0.7 0.7 0.69 0.68 0.67 0.66 0.65 0.64 0.62 0.61 0.6 0.59 0.57 0.56 0.55 0.54 0.53 0.51 0.5 0.49 0.48 0.46 0.45 0.44 0.43 0.41 0.4 0.39 0.38 0.37 0.35 0.34 0.33 0.32 0.31 0.3 0.29 0.28 0.27 0.26 0.25 0.23 0.22 0.21 0.2 0.19 0.18 0.17 0.16 0.15 0.14 0.13 0.12 0.11 0.09 0.08 0.08 0.07 0.07 0.07 0.06 0.06 0.06 0.06 0.05 0.05 0.05 0.04 0.04 0.04 0.03 0.03 0.03 0.02 0.02 0.02 0.02 0.01 0.01 0.01 0 0"/><feFuncG type="table" tableValues="0 0 0 0 0.01 0.01 0.01 0.01 0.01 0.01 0.02 0.02 0.02 0.02 0.02 0.02 0.02 0.03 0.03 0.03 0.03 0.03 0.03 0.04 0.04 0.04 0.04 0.06 0.07 0.08 0.09 0.1 0.11 0.12 0.13 0.14 0.15 0.16 0.17 0.18 0.2 0.21 0.22 0.23 0.24 0.25 0.26 0.27 0.28 0.29 0.3 0.31 0.33 0.34 0.35 0.36 0.38 0.39 0.4 0.41 0.42 0.44 0.45 0.46 0.47 0.49 0.5 0.51 0.52 0.54 0.55 0.56 0.57 0.58 0.6 0.61 0.62 0.63 0.64 0.65 0.66 0.67 0.67 0.68 0.69 0.7 0.71 0.72 0.72 0.73 0.74 0.75 0.76 0.77 0.78 0.78 0.79 0.8 0.81 0.82 0.83 0.83 0.84 0.85 0.85 0.86 0.86 0.87 0.87 0.88 0.88 0.89 0.89 0.9 0.9 0.91 0.91 0.92 0.92 0.93 0.93 0.94 0.94 0.95 0.95 0.96 0.96 0.97 0.97 0.97 0.97 0.97 0.97 0.96 0.96 0.96 0.96 0.96 0.96 0.96 0.96 0.96 0.96 0.96 0.96 0.96 0.95 0.95 0.95 0.95 0.95 0.95 0.95 0.95 0.95 0.94 0.94 0.94 0.93 0.93 0.93 0.92 0.92 0.92 0.91 0.91 0.91 0.9 0.9 0.89 0.89 0.89 0.88 0.88 0.88 0.87 0.87 0.87 0.86 0.86 0.85 0.85 0.84 0.84 0.83 0.82 0.82 0.81 0.8 0.8 0.79 0.79 0.78 0.77 0.77 0.76 0.76 0.75 0.74 0.74 0.73 0.72 0.72 0.71 0.71 0.7 0.69 0.69 0.68 0.68 0.67 0.66 0.66 0.65 0.64 0.64 0.63 0.63 0.62 0.61 0.61 0.6 0.6 0.59 0.58 0.58 0.57 0.56 0.56 0.55 0.55 0.54 0.53 0.53 0.52 0.52 0.51 0.5 0.5 0.49 0.48 0.48 0.47 0.47 0.46 0.45 0.45 0.44 0.44 0.43 0.42 0.42 0.41 0.4 0.4 0.39"/><feFuncB type="table" tableValues="0.35 0.36 0.36 0.37 0.37 0.38 0.39 0.39 0.4 0.4 0.41 0.41 0.42 0.42 0.43 0.43 0.44 0.44 0.45 0.46 0.46 0.47 0.47 0.48 0.48 0.49 0.49 0.5 0.5 0.51 0.51 0.52 0.52 0.52 0.53 0.53 0.54 0.54 0.55 0.55 0.56 0.56 0.57 0.57 0.58 0.58 0.58 0.59 0.59 0.6 0.6 0.61 0.61 0.62 0.63 0.64 0.64 0.65 0.66 0.66 0.67 0.68 0.68 0.69 0.7 0.7 0.71 0.72 0.73 0.73 0.74 0.75 0.75 0.76 0.77 0.77 0.78 0.79 0.79 0.8 0.8 0.81 0.81 0.82 0.82 0.83 0.84 0.84 0.85 0.85 0.86 0.86 0.87 0.87 0.88 0.88 0.89 0.89 0.9 0.91 0.91 0.92 0.92 0.92 0.93 0.93 0.93 0.93 0.93 0.93 0.94 0.94 0.94 0.94 0.94 0.95 0.95 0.95 0.95 0.95 0.95 0.96 0.96 0.96 0.96 0.96 0.97 0.97 0.97 0.96 0.96 0.95 0.95 0.94 0.94 0.93 0.93 0.92 0.92 0.91 0.91 0.9 0.9 0.89 0.89 0.88 0.88 0.87 0.87 0.86 0.86 0.85 0.85 0.84 0.83 0.82 0.81 0.8 0.79 0.77 0.76 0.75 0.74 0.73 0.72 0.7 0.69 0.68 0.67 0.66 0.65 0.64 0.62 0.61 0.6 0.59 0.58 0.57 0.55 0.54 0.53 0.51 0.5 0.49 0.47 0.46 0.45 0.43 0.42 0.4 0.39 0.38 0.36 0.35 0.33 0.32 0.31 0.29 0.28 0.27 0.25 0.24 0.22 0.21 0.2 0.19 0.18 0.18 0.17 0.17 0.16 0.15 0.15 0.14 0.13 0.13 0.12 0.12 0.11 0.1 0.1 0.09 0.09 0.08 0.07 0.07 0.06 0.05 0.05 0.04 0.04 0.04 0.04 0.03 0.03 0.03 0.03 0.03 0.03 0.02 0.02 0.02 0.02 0.02 0.02 0.02 0.01 0.01 0.01 0.01 0.01 0.01 0 0 0 0"/></feComponentTransfer></filter><linearGradient id="cb1" x1="0" y1="0" x2="0" y2="1"><stop offset="0" stop-color="rgb(128,0,0)"/><stop offset="0.03" stop-color="rgb(143,0,0)"/><stop offset="0.06" stop-color="rgb(159,0,0)"/><stop offset="0.09" stop-color="rgb(175,0,0)"/><stop offset="0.12" stop-color="rgb(191,0,0)"/><stop offset="0.16" stop-color="rgb(207,0,0)"/><stop offset="0.19" stop-color="rgb(223,0,0)"/><stop offset="0.22" stop-color="rgb(239,0,0)"/><stop offset="0.25" stop-color="rgb(255,0,0)"/><stop offset="0.28" stop-color="rgb(255,32,32)"/><stop offset="0.31" stop-color="rgb(255,64,64)"/><stop offset="0.34" stop-color="rgb(255,96,96)"/><stop offset="0.38" stop-color="rgb(255,128,128)"/><stop offset="0.41" stop-color="rgb(255,159,159)"/><stop offset="0.44" stop-color="rgb(255,191,191)"/><stop offset="0.47" stop-color="rgb(255,223,223)"/><stop offset="0.5" stop-color="rgb(255,255,255)"/><stop offset="0.53" stop-color="rgb(223,223,255)"/><stop offset="0.56" stop-color="rgb(191,191,255)"/><stop offset="0.59" stop-color="rgb(159,159,255)"/><stop offset="0.62" stop-color="rgb(128,128,255)"/><stop offset="0.66" stop-color="rgb(96,96,255)"/><stop offset="0.69" stop-color="rgb(64,64,255)"/><stop offset="0.72" stop-color="rgb(32,32,255)"/><stop offset="0.75" stop-color="rgb(0,0,255)"/><stop offset="0.78" stop-color="rgb(0,0,233)"/><stop offset="0.81" stop-color="rgb(0,0,210)"/><stop offset="0.84" stop-color="rgb(0,0,188)"/><stop offset="0.88" stop-color="rgb(0,0,166)"/><stop offset="0.91" stop-color="rgb(0,0,143)"/><stop offset="0.94" stop-color="rgb(0,0,121)"/><stop offset="0.97" stop-color="rgb(0,0,99)"/><stop offset="1" stop-color="rgb(0,0,76)"/></linearGradient><linearGradient id="cb2" x1="0" y1="0" x2="0" y2="1"><stop offset="0" stop-color="rgb(0,100,0)"/><stop offset="0.03" stop-color="rgb(6,112,3)"/><stop offset="0.06" stop-color="rgb(12,125,6)"/><stop offset="0.09" stop-color="rgb(19,138,9)"/><stop offset="0.12" stop-color="rgb(38,150,20)"/><stop offset="0.16" stop-color="rgb(59,163,32)"/><stop offset="0.19" stop-color="rgb(81,175,45)"/><stop offset="0.22" stop-color="rgb(105,188,67)"/><stop offset="0.25" stop-color="rgb(130,200,95)"/><stop offset="0.28" stop-color="rgb(155,212,123)"/><stop offset="0.31" stop-color="rgb(177,223,149)"/><stop offset="0.34" stop-color="rgb(194,230,173)"/><stop offset="0.38" stop-color="rgb(211,236,196)"/><stop offset="0.41" stop-color="rgb(226,242,217)"/><stop offset="0.44" stop-color="rgb(233,244,227)"/><stop offset="0.47" stop-color="rgb(240,245,237)"/><stop offset="0.5" stop-color="rgb(247,247,247)"/><stop offset="0.53" stop-color="rgb(249,237,243)"/><stop offset="0.56" stop-color="rgb(250,227,240)"/><stop offset="0.59" stop-color="rgb(252,217,236)"/><stop offset="0.62" stop-color="rgb(251,201,226)"/><stop offset="0.66" stop-color="rgb(250,184,215)"/><stop offset="0.69" stop-color="rgb(248,167,204)"/><stop offset="0.72" stop-color="rgb(246,145,192)"/><stop offset="0.75" stop-color="rgb(243,120,178)"/><stop offset="0.78" stop-color="rgb(240,95,163)"/><stop offset="0.81" stop-color="rgb(235,71,151)"/><stop offset="0.84" stop-color="rgb(228,49,142)"/><stop offset="0.88" stop-color="rgb(221,28,132)"/><stop offset="0.91" stop-color="rgb(212,9,123)"/><stop offset="0.94" stop-color="rgb(198,6,112)"/><stop offset="0.97" stop-color="rgb(184,3,101)"/><stop offset="1" stop-color="rgb(170,0,90)"/></linearGradient></defs><rect width="685" height="517" fill="#fff"/><rect x="77.7" y="14.1" width="522" height="130.6" fill="#fff"/><g clip-path="url(#axa)"><g filter="url(#fa)"><rect x="77.7" y="14.1" width="522" height="130.6" fill="#000"/><ellipse cx="175" cy="78" rx="166.15" ry="26.58" fill="url(#g0)" fill-opacity="0.100" style="mix-blend-mode:screen"/><ellipse cx="255" cy="77" rx="99.69" ry="26.58" fill="url(#g0)" fill-opacity="0.080" style="mix-blend-mode:screen"/><ellipse cx="141.8" cy="80.3" rx="33.23" ry="13.29" fill="url(#g0)" fill-opacity="0.100" style="mix-blend-mode:screen"/><ellipse cx="182" cy="78" rx="29.91" ry="19.94" fill="url(#g0)" fill-opacity="0.150" style="mix-blend-mode:screen"/><ellipse cx="205" cy="74" rx="26.58" ry="16.62" fill="url(#g0)" fill-opacity="0.260" style="mix-blend-mode:screen"/><ellipse cx="211" cy="81" rx="19.94" ry="11.63" fill="url(#g0)" fill-opacity="0.200" style="mix-blend-mode:screen"/><ellipse cx="236" cy="70" rx="23.26" ry="16.62" fill="url(#g0)" fill-opacity="0.330" style="mix-blend-mode:screen"/><ellipse cx="238" cy="83" rx="23.26" ry="13.29" fill="url(#g0)" fill-opacity="0.200" style="mix-blend-mode:screen"/><ellipse cx="268" cy="79.3" rx="36.55" ry="16.62" fill="url(#g0)" fill-opacity="0.330" style="mix-blend-mode:screen"/><ellipse cx="287" cy="75" rx="19.94" ry="26.58" fill="url(#g0)" fill-opacity="0.380" style="mix-blend-mode:screen"/><ellipse cx="263.5" cy="62" rx="26.58" ry="13.29" fill="url(#g0)" fill-opacity="0.150" style="mix-blend-mode:screen"/><ellipse cx="307.5" cy="77.5" rx="25.17" ry="25.17" fill="url(#g1)" style="mix-blend-mode:screen"/><ellipse cx="314" cy="90" rx="33.23" ry="23.26" fill="url(#g0)" fill-opacity="0.350" style="mix-blend-mode:screen"/><ellipse cx="312" cy="101" rx="29.91" ry="13.29" fill="url(#g0)" fill-opacity="0.250" style="mix-blend-mode:screen"/><ellipse cx="326" cy="52" rx="33.23" ry="11.63" fill="url(#g2)" fill-opacity="0.300" style="mix-blend-mode:screen"/><ellipse cx="347" cy="63.4" rx="36.55" ry="5.32" fill="url(#g2)" fill-opacity="0.500" style="mix-blend-mode:screen"/><ellipse cx="349" cy="73.8" rx="53.17" ry="8.64" fill="url(#g2)" fill-opacity="0.600" style="mix-blend-mode:screen"/><ellipse cx="362" cy="74" rx="19.94" ry="7.64" fill="url(#g2)" fill-opacity="0.300" style="mix-blend-mode:screen"/><ellipse cx="360" cy="80.3" rx="29.91" ry="5.65" fill="url(#g2)" fill-opacity="0.500" style="mix-blend-mode:screen"/><ellipse cx="341" cy="84.5" rx="26.58" ry="5.98" fill="url(#g0)" fill-opacity="0.400" style="mix-blend-mode:screen"/><ellipse cx="373" cy="63.5" rx="25.08" ry="13.68" fill="url(#g3)" style="mix-blend-mode:screen"/><ellipse cx="363" cy="96.7" rx="22.8" ry="14.36" fill="url(#g3)" style="mix-blend-mode:screen"/><ellipse cx="337.5" cy="96.5" rx="20.04" ry="14.03" fill="url(#g4)" fill-opacity="0.780" style="mix-blend-mode:screen"/><ellipse cx="402" cy="72" rx="22.27" ry="16.7" fill="url(#g4)" fill-opacity="0.680" style="mix-blend-mode:screen"/><ellipse cx="406" cy="70" rx="19.94" ry="13.29" fill="url(#g2)" fill-opacity="0.200" style="mix-blend-mode:screen"/><ellipse cx="415" cy="70" rx="16.62" ry="16.62" fill="url(#g2)" fill-opacity="0.400" style="mix-blend-mode:screen"/><ellipse cx="390" cy="87" rx="15.59" ry="17.81" fill="url(#g4)" fill-opacity="0.650" style="mix-blend-mode:screen"/><ellipse cx="414" cy="83" rx="16.62" ry="13.29" fill="url(#g0)" fill-opacity="0.150" style="mix-blend-mode:screen"/><ellipse cx="437" cy="78" rx="46.52" ry="33.23" fill="url(#g2)" fill-opacity="0.300" style="mix-blend-mode:screen"/><ellipse cx="433" cy="88" rx="19.94" ry="13.29" fill="url(#g2)" fill-opacity="0.150" style="mix-blend-mode:screen"/><ellipse cx="442.6" cy="68.7" rx="19.94" ry="13.29" fill="url(#g2)" fill-opacity="0.100" style="mix-blend-mode:screen"/><ellipse cx="467.7" cy="70.6" rx="16.62" ry="13.29" fill="url(#g2)" fill-opacity="0.300" style="mix-blend-mode:screen"/><ellipse cx="489" cy="76" rx="19.94" ry="23.26" fill="url(#g2)" fill-opacity="0.350" style="mix-blend-mode:screen"/><ellipse cx="504.5" cy="70.6" rx="13.29" ry="16.62" fill="url(#g0)" fill-opacity="0.280" style="mix-blend-mode:screen"/><ellipse cx="533" cy="82" rx="49.85" ry="19.94" fill="url(#g2)" fill-opacity="0.150" style="mix-blend-mode:screen"/><ellipse cx="551" cy="84" rx="16.62" ry="19.94" fill="url(#g2)" fill-opacity="0.080" style="mix-blend-mode:screen"/><ellipse cx="470" cy="86" rx="39.88" ry="13.29" fill="url(#g2)" fill-opacity="0.180" style="mix-blend-mode:screen"/><ellipse cx="362" cy="45" rx="39.88" ry="9.97" fill="url(#g0)" fill-opacity="0.100" style="mix-blend-mode:screen"/><ellipse cx="409" cy="52" rx="33.23" ry="13.29" fill="url(#g0)" fill-opacity="0.120" style="mix-blend-mode:screen"/><ellipse cx="470" cy="59" rx="39.88" ry="9.97" fill="url(#g0)" fill-opacity="0.100" style="mix-blend-mode:screen"/><ellipse cx="515" cy="59" rx="33.23" ry="9.97" fill="url(#g0)" fill-opacity="0.100" style="mix-blend-mode:screen"/><ellipse cx="572" cy="76" rx="33.23" ry="29.91" fill="url(#g0)" fill-opacity="0.035" style="mix-blend-mode:screen"/><ellipse cx="597" cy="84" rx="13.29" ry="16.62" fill="url(#g2)" fill-opacity="0.050" style="mix-blend-mode:screen"/><ellipse cx="107" cy="55" rx="19.94" ry="13.29" fill="url(#g2)" fill-opacity="0.025" style="mix-blend-mode:screen"/><ellipse cx="130" cy="53" rx="19.94" ry="13.29" fill="url(#g2)" fill-opacity="0.025" style="mix-blend-mode:screen"/><ellipse cx="116.7" cy="94" rx="19.94" ry="13.29" fill="url(#g2)" fill-opacity="0.030" style="mix-blend-mode:screen"/><ellipse cx="213" cy="51" rx="19.94" ry="13.29" fill="url(#g2)" fill-opacity="0.050" style="mix-blend-mode:screen"/><ellipse cx="298" cy="32" rx="26.58" ry="13.29" fill="url(#g2)" fill-opacity="0.080" style="mix-blend-mode:screen"/><ellipse cx="392" cy="112" rx="39.88" ry="13.29" fill="url(#g2)" fill-opacity="0.060" style="mix-blend-mode:screen"/><ellipse cx="409.7" cy="37.7" rx="19.94" ry="13.29" fill="url(#g2)" fill-opacity="0.060" style="mix-blend-mode:screen"/><ellipse cx="438.7" cy="37.7" rx="19.94" ry="13.29" fill="url(#g2)" fill-opacity="0.050" style="mix-blend-mode:screen"/><ellipse cx="238" cy="108" rx="66.46" ry="13.29" fill="url(#g0)" fill-opacity="0.040" style="mix-blend-mode:screen"/><ellipse cx="292" cy="31" rx="39.88" ry="16.62" fill="url(#g2)" fill-opacity="0.070" style="mix-blend-mode:screen"/><ellipse cx="330" cy="28" rx="33.23" ry="13.29" fill="url(#g2)" fill-opacity="0.070" style="mix-blend-mode:screen"/><ellipse cx="372" cy="27" rx="46.52" ry="16.62" fill="url(#g2)" fill-opacity="0.080" style="mix-blend-mode:screen"/><ellipse cx="316" cy="22" rx="26.58" ry="13.29" fill="url(#g0)" fill-opacity="0.090" style="mix-blend-mode:screen"/><ellipse cx="420" cy="40" rx="39.88" ry="16.62" fill="url(#g0)" fill-opacity="0.070" style="mix-blend-mode:screen"/><ellipse cx="445" cy="30" rx="26.58" ry="13.29" fill="url(#g2)" fill-opacity="0.050" style="mix-blend-mode:screen"/><ellipse cx="200" cy="40" rx="33.23" ry="16.62" fill="url(#g2)" fill-opacity="0.035" style="mix-blend-mode:screen"/><ellipse cx="250" cy="50" rx="33.23" ry="13.29" fill="url(#g0)" fill-opacity="0.050" style="mix-blend-mode:screen"/><ellipse cx="312" cy="112" rx="33.23" ry="16.62" fill="url(#g0)" fill-opacity="0.100" style="mix-blend-mode:screen"/><ellipse cx="368" cy="118" rx="46.52" ry="13.29" fill="url(#g0)" fill-opacity="0.080" style="mix-blend-mode:screen"/><ellipse cx="278" cy="125" rx="33.23" ry="16.62" fill="url(#g2)" fill-opacity="0.035" style="mix-blend-mode:screen"/></g></g><g clip-path="url(#axb)"><g filter="url(#fb)"><rect x="77.7" y="158.6" width="522" height="168.3" fill="#000"/><ellipse cx="220" cy="250" rx="182.77" ry="53.17" fill="url(#g0)" fill-opacity="0.100" style="mix-blend-mode:screen"/><ellipse cx="90.8" cy="249" rx="23.26" ry="49.85" fill="url(#g0)" fill-opacity="0.040" style="mix-blend-mode:screen"/><ellipse cx="113.3" cy="249" rx="23.26" ry="49.85" fill="url(#g0)" fill-opacity="0.050" style="mix-blend-mode:screen"/><ellipse cx="139" cy="249" rx="26.58" ry="53.17" fill="url(#g0)" fill-opacity="0.080" style="mix-blend-mode:screen"/><ellipse cx="157" cy="249" rx="26.58" ry="53.17" fill="url(#g0)" fill-opacity="0.080" style="mix-blend-mode:screen"/><ellipse cx="180.4" cy="249" rx="23.26" ry="49.85" fill="url(#g0)" fill-opacity="0.160" style="mix-blend-mode:screen"/><ellipse cx="209" cy="251" rx="23.26" ry="49.85" fill="url(#g0)" fill-opacity="0.240" style="mix-blend-mode:screen"/><ellipse cx="236" cy="255" rx="24.92" ry="49.85" fill="url(#g0)" fill-opacity="0.240" style="mix-blend-mode:screen"/><ellipse cx="274.5" cy="250" rx="26.58" ry="54.83" fill="url(#g0)" fill-opacity="0.550" style="mix-blend-mode:screen"/><ellipse cx="254" cy="252" rx="26.58" ry="49.85" fill="url(#g0)" fill-opacity="0.250" style="mix-blend-mode:screen"/><ellipse cx="311" cy="249.5" rx="22.27" ry="38.97" fill="url(#g5)" style="mix-blend-mode:screen"/><ellipse cx="338.5" cy="262" rx="13.29" ry="39.88" fill="url(#g0)" fill-opacity="0.200" style="mix-blend-mode:screen"/><ellipse cx="336" cy="240" rx="13.29" ry="46.52" fill="url(#g0)" fill-opacity="0.080" style="mix-blend-mode:screen"/><ellipse cx="358.5" cy="248" rx="20.04" ry="38.97" fill="url(#g4)" fill-opacity="0.720" style="mix-blend-mode:screen"/><ellipse cx="374.5" cy="250" rx="8.31" ry="49.85" fill="url(#g0)" fill-opacity="0.060" style="mix-blend-mode:screen"/><ellipse cx="394" cy="249" rx="28.95" ry="42.31" fill="url(#g4)" fill-opacity="0.800" style="mix-blend-mode:screen"/><ellipse cx="429" cy="250" rx="16.62" ry="46.52" fill="url(#g2)" fill-opacity="0.300" style="mix-blend-mode:screen"/><ellipse cx="446" cy="250" rx="16.62" ry="46.52" fill="url(#g2)" fill-opacity="0.300" style="mix-blend-mode:screen"/><ellipse cx="468.6" cy="250" rx="18.28" ry="46.52" fill="url(#g2)" fill-opacity="0.200" style="mix-blend-mode:screen"/><ellipse cx="490.5" cy="250" rx="18.28" ry="46.52" fill="url(#g2)" fill-opacity="0.400" style="mix-blend-mode:screen"/><ellipse cx="503.6" cy="250" rx="11.63" ry="46.52" fill="url(#g0)" fill-opacity="0.170" style="mix-blend-mode:screen"/><ellipse cx="519.7" cy="250" rx="23.26" ry="46.52" fill="url(#g2)" fill-opacity="0.200" style="mix-blend-mode:screen"/><ellipse cx="550.4" cy="250" rx="16.62" ry="46.52" fill="url(#g2)" fill-opacity="0.200" style="mix-blend-mode:screen"/><ellipse cx="570" cy="250" rx="23.26" ry="46.52" fill="url(#g0)" fill-opacity="0.035" style="mix-blend-mode:screen"/><ellipse cx="595" cy="250" rx="13.29" ry="46.52" fill="url(#g2)" fill-opacity="0.050" style="mix-blend-mode:screen"/></g></g><rect x="77.7" y="341.1" width="522" height="130.6" fill="#f7f7f7"/><g clip-path="url(#axc)"><g clip-path="url(#wg)"><g filter="url(#fc)"><rect x="77.7" y="341.1" width="522" height="130.6" fill="#000"/><ellipse cx="215" cy="406" rx="432" ry="39.88" fill="url(#g0)" fill-opacity="0.150" style="mix-blend-mode:screen"/><ellipse cx="462" cy="406" rx="432" ry="39.88" fill="url(#g2)" fill-opacity="0.200" style="mix-blend-mode:screen"/><ellipse cx="95" cy="404" rx="39.88" ry="19.94" fill="url(#g0)" fill-opacity="0.270" style="mix-blend-mode:screen"/><ellipse cx="133" cy="409" rx="36.55" ry="21.6" fill="url(#g0)" fill-opacity="0.380" style="mix-blend-mode:screen"/><ellipse cx="152" cy="409" rx="36.55" ry="21.6" fill="url(#g0)" fill-opacity="0.380" style="mix-blend-mode:screen"/><ellipse cx="191" cy="403.5" rx="29.91" ry="18.28" fill="url(#g0)" fill-opacity="0.700" style="mix-blend-mode:screen"/><ellipse cx="230" cy="409.5" rx="33.23" ry="21.6" fill="url(#g0)" fill-opacity="0.700" style="mix-blend-mode:screen"/><ellipse cx="250" cy="409.5" rx="33.23" ry="21.6" fill="url(#g0)" fill-opacity="0.750" style="mix-blend-mode:screen"/><ellipse cx="288" cy="403.5" rx="29.91" ry="18.28" fill="url(#g0)" fill-opacity="0.880" style="mix-blend-mode:screen"/><ellipse cx="320" cy="410" rx="26.58" ry="21.6" fill="url(#g0)" fill-opacity="0.600" style="mix-blend-mode:screen"/><ellipse cx="354" cy="409.6" rx="31.57" ry="21.6" fill="url(#g2)" fill-opacity="0.800" style="mix-blend-mode:screen"/><ellipse cx="387" cy="403.5" rx="29.91" ry="18.28" fill="url(#g2)" fill-opacity="0.950" style="mix-blend-mode:screen"/><ellipse cx="426" cy="409.6" rx="33.23" ry="21.6" fill="url(#g2)" fill-opacity="0.900" style="mix-blend-mode:screen"/><ellipse cx="446" cy="409.6" rx="33.23" ry="21.6" fill="url(#g2)" fill-opacity="0.950" style="mix-blend-mode:screen"/><ellipse cx="484" cy="402.5" rx="29.91" ry="18.28" fill="url(#g2)" fill-opacity="0.850" style="mix-blend-mode:screen"/><ellipse cx="522" cy="410" rx="36.55" ry="23.26" fill="url(#g2)" fill-opacity="0.520" style="mix-blend-mode:screen"/><ellipse cx="540" cy="410" rx="36.55" ry="23.26" fill="url(#g2)" fill-opacity="0.520" style="mix-blend-mode:screen"/><ellipse cx="580" cy="403" rx="39.88" ry="21.6" fill="url(#g2)" fill-opacity="0.400" style="mix-blend-mode:screen"/></g></g></g><g clip-path="url(#axa)" fill="none" stroke="#000" stroke-width="2.1" stroke-linejoin="round"><polyline points="-101.9,62.9 -100.1,62.2 -98.2,61.6 -96.3,61.2 -94.3,60.9 -92.4,60.7 -90.4,60.6 -88.4,60.7 -86.5,60.9 -84.5,61.3 -82.6,61.8 -80.8,62.4 -78.9,63.2 -77.2,64.1 -75.5,65.1 -73.9,66.2 -72.3,67.5 -70.9,68.8 -69.5,70.2 -68.3,71.8 -68.3,70.0 -68.2,68.3 -67.8,66.5 -67.3,64.9 -66.5,63.3 -65.6,61.8 -64.5,60.4 -63.3,59.2 -62.0,58.1 -60.5,57.1 -58.9,56.4 -57.3,55.8 -55.6,55.4 -53.8,55.2 -52.1,55.2 -50.3,55.4 -48.6,55.8 -47.0,56.4 -45.4,57.1 -43.9,58.1 -42.6,59.2 -41.4,60.4 -40.3,61.8 -39.4,63.3 -38.6,64.9 -38.1,66.5 -37.7,68.3 -37.6,70.0 -37.6,71.8 -36.4,70.2 -35.0,68.8 -33.6,67.5 -32.0,66.2 -30.4,65.1 -28.7,64.1 -27.0,63.2 -25.1,62.4 -23.3,61.8 -21.4,61.3 -19.4,60.9 -17.5,60.7 -15.5,60.6 -13.5,60.7 -11.6,60.9 -9.6,61.2 -7.7,61.6 -5.8,62.2 -4.0,62.9 -2.2,62.2 -0.3,61.6 1.6,61.2 3.6,60.9 5.5,60.7 7.5,60.6 9.5,60.7 11.4,60.9 13.3,61.3 15.3,61.8 17.1,62.4 18.9,63.2 20.7,64.1 22.4,65.1 24.0,66.2 25.5,67.5 27.0,68.8 28.3,70.2 29.6,71.8 29.5,70.0 29.7,68.3 30.1,66.5 30.6,64.9 31.3,63.3 32.3,61.8 33.3,60.4 34.6,59.2 35.9,58.1 37.4,57.1 39.0,56.4 40.6,55.8 42.3,55.4 44.0,55.2 45.8,55.2 47.5,55.4 49.2,55.8 50.9,56.4 52.5,57.1 53.9,58.1 55.3,59.2 56.5,60.4 57.6,61.8 58.5,63.3 59.2,64.9 59.8,66.5 60.2,68.3 60.3,70.0 60.3,71.8 61.5,70.2 62.9,68.8 64.3,67.5 65.8,66.2 67.5,65.1 69.2,64.1 70.9,63.2 72.7,62.4 74.6,61.8 76.5,61.3 78.4,60.9 80.4,60.7 82.4,60.6 84.3,60.7 86.3,60.9 88.2,61.2 90.2,61.6 92.0,62.2 93.9,62.9 95.7,62.2 97.6,61.6 99.5,61.2 101.4,60.9 103.4,60.7 105.4,60.6 107.3,60.7 109.3,60.9 111.2,61.3 113.1,61.8 115.0,62.4 116.8,63.2 118.6,64.1 120.3,65.1 121.9,66.2 123.4,67.5 124.9,68.8 126.2,70.2 127.5,71.8 127.4,70.0 127.6,68.3 127.9,66.5 128.5,64.9 129.2,63.3 130.1,61.8 131.2,60.4 132.4,59.2 133.8,58.1 135.3,57.1 136.8,56.4 138.5,55.8 140.2,55.4 141.9,55.2 143.7,55.2 145.4,55.4 147.1,55.8 148.8,56.4 150.3,57.1 151.8,58.1 153.2,59.2 154.4,60.4 155.5,61.8 156.4,63.3 157.1,64.9 157.7,66.5 158.0,68.3 158.2,70.0 158.1,71.8 159.4,70.2 160.7,68.8 162.2,67.5 163.7,66.2 165.3,65.1 167.0,64.1 168.8,63.2 170.6,62.4 172.5,61.8 174.4,61.3 176.3,60.9 178.3,60.7 180.2,60.6 182.2,60.7 184.2,60.9 186.1,61.2 188.0,61.6 189.9,62.2 191.7,62.9 193.6,62.2 195.4,61.6 197.4,61.2 199.3,60.9 201.3,60.7 203.2,60.6 205.2,60.7 207.2,60.9 209.1,61.3 211.0,61.8 212.9,62.4 214.7,63.2 216.4,64.1 218.1,65.1 219.8,66.2 221.3,67.5 222.7,68.8 224.1,70.2 225.3,71.8 225.3,70.0 225.4,68.3 225.8,66.5 226.4,64.9 227.1,63.3 228.0,61.8 229.1,60.4 230.3,59.2 231.7,58.1 233.1,57.1 234.7,56.4 236.4,55.8 238.1,55.4 239.8,55.2 241.6,55.2 243.3,55.4 245.0,55.8 246.6,56.4 248.2,57.1 249.7,58.1 251.0,59.2 252.3,60.4 253.3,61.8 254.3,63.3 255.0,64.9 255.5,66.5 255.9,68.3 256.1,70.0 256.0,71.8 257.3,70.2 258.6,68.8 260.1,67.5 261.6,66.2 263.2,65.1 264.9,64.1 266.7,63.2 268.5,62.4 270.3,61.8 272.3,61.3 274.2,60.9 276.1,60.7 278.1,60.6 280.1,60.7 282.0,60.9 284.0,61.2 285.9,61.6 287.8,62.2 289.6,62.9 291.4,62.2 293.3,61.6 295.2,61.2 297.2,60.9 299.1,60.7 301.1,60.6 303.1,60.7 305.0,60.9 307.0,61.3 308.9,61.8 310.7,62.4 312.6,63.2 314.3,64.1 316.0,65.1 317.6,66.2 319.2,67.5 320.6,68.8 322.0,70.2 323.2,71.8 323.2,70.0 323.3,68.3 323.7,66.5 324.2,64.9 325.0,63.3 325.9,61.8 327.0,60.4 328.2,59.2 329.5,58.1 331.0,57.1 332.6,56.4 334.2,55.8 335.9,55.4 337.7,55.2 339.4,55.2 341.2,55.4 342.9,55.8 344.5,56.4 346.1,57.1 347.6,58.1 348.9,59.2 350.1,60.4 351.2,61.8 352.1,63.3 352.9,64.9 353.4,66.5 353.8,68.3 353.9,70.0 353.9,71.8 355.1,70.2 356.5,68.8 357.9,67.5 359.5,66.2 361.1,65.1 362.8,64.1 364.5,63.2 366.4,62.4 368.2,61.8 370.1,61.3 372.1,60.9 374.0,60.7 376.0,60.6 378.0,60.7 379.9,60.9 381.9,61.2 383.8,61.6 385.7,62.2 387.5,62.9 389.3,62.2 391.2,61.6 393.1,61.2 395.1,60.9 397.0,60.7 399.0,60.6 401.0,60.7 402.9,60.9 404.8,61.3 406.8,61.8 408.6,62.4 410.4,63.2 412.2,64.1 413.9,65.1 415.5,66.2 417.0,67.5 418.5,68.8 419.8,70.2 421.1,71.8 421.0,70.0 421.2,68.3 421.6,66.5 422.1,64.9 422.8,63.3 423.8,61.8 424.8,60.4 426.1,59.2 427.4,58.1 428.9,57.1 430.5,56.4 432.1,55.8 433.8,55.4 435.5,55.2 437.3,55.2 439.0,55.4 440.7,55.8 442.4,56.4 444.0,57.1 445.4,58.1 446.8,59.2 448.0,60.4 449.1,61.8 450.0,63.3 450.7,64.9 451.3,66.5 451.7,68.3 451.8,70.0 451.8,71.8 453.0,70.2 454.4,68.8 455.8,67.5 457.3,66.2 459.0,65.1 460.7,64.1 462.4,63.2 464.2,62.4 466.1,61.8 468.0,61.3 469.9,60.9 471.9,60.7 473.9,60.6 475.8,60.7 477.8,60.9 479.7,61.2 481.7,61.6 483.5,62.2 485.4,62.9 487.2,62.2 489.1,61.6 491.0,61.2 492.9,60.9 494.9,60.7 496.9,60.6 498.8,60.7 500.8,60.9 502.7,61.3 504.6,61.8 506.5,62.4 508.3,63.2 510.1,64.1 511.8,65.1 513.4,66.2 514.9,67.5 516.4,68.8 517.7,70.2 519.0,71.8 518.9,70.0 519.1,68.3 519.4,66.5 520.0,64.9 520.7,63.3 521.6,61.8 522.7,60.4 523.9,59.2 525.3,58.1 526.8,57.1 528.3,56.4 530.0,55.8 531.7,55.4 533.4,55.2 535.2,55.2 536.9,55.4 538.6,55.8 540.3,56.4 541.8,57.1 543.3,58.1 544.7,59.2 545.9,60.4 547.0,61.8 547.9,63.3 548.6,64.9 549.2,66.5 549.5,68.3 549.7,70.0 549.6,71.8 550.9,70.2 552.2,68.8 553.7,67.5 555.2,66.2 556.8,65.1 558.5,64.1 560.3,63.2 562.1,62.4 564.0,61.8 565.9,61.3 567.8,60.9 569.8,60.7 571.7,60.6 573.7,60.7 575.7,60.9 577.6,61.2 579.5,61.6 581.4,62.2 583.2,62.9 585.1,62.2 586.9,61.6 588.9,61.2 590.8,60.9 592.8,60.7 594.7,60.6 596.7,60.7 598.7,60.9 600.6,61.3 602.5,61.8 604.4,62.4 606.2,63.2 607.9,64.1 609.6,65.1 611.3,66.2 612.8,67.5 614.2,68.8 615.6,70.2 616.8,71.8 616.8,70.0 616.9,68.3 617.3,66.5 617.9,64.9 618.6,63.3 619.5,61.8 620.6,60.4 621.8,59.2 623.2,58.1 624.6,57.1 626.2,56.4 627.9,55.8 629.6,55.4 631.3,55.2 633.1,55.2 634.8,55.4 636.5,55.8 638.1,56.4 639.7,57.1 641.2,58.1 642.5,59.2 643.8,60.4 644.8,61.8 645.8,63.3 646.5,64.9 647.0,66.5 647.4,68.3 647.6,70.0 647.5,71.8 648.8,70.2 650.1,68.8 651.6,67.5 653.1,66.2 654.7,65.1 656.4,64.1 658.2,63.2 660.0,62.4 661.8,61.8 663.8,61.3 665.7,60.9 667.6,60.7 669.6,60.6 671.6,60.7 673.5,60.9 675.5,61.2 677.4,61.6 679.3,62.2 681.1,62.9 682.9,62.2 684.8,61.6 686.7,61.2 688.7,60.9 690.6,60.7 692.6,60.6 694.6,60.7 696.5,60.9 698.5,61.3 700.4,61.8 702.2,62.4 704.1,63.2 705.8,64.1 707.5,65.1 709.1,66.2 710.7,67.5 712.1,68.8 713.5,70.2 714.7,71.8 714.7,70.0 714.8,68.3 715.2,66.5 715.7,64.9 716.5,63.3 717.4,61.8 718.5,60.4 719.7,59.2 721.0,58.1 722.5,57.1 724.1,56.4 725.7,55.8 727.4,55.4 729.2,55.2 730.9,55.2 732.7,55.4 734.4,55.8 736.0,56.4 737.6,57.1 739.1,58.1 740.4,59.2 741.6,60.4 742.7,61.8 743.6,63.3 744.4,64.9 744.9,66.5 745.3,68.3 745.4,70.0 745.4,71.8 746.6,70.2 748.0,68.8 749.4,67.5 751.0,66.2 752.6,65.1 754.3,64.1 756.0,63.2 757.9,62.4 759.7,61.8 761.6,61.3 763.6,60.9 765.5,60.7 767.5,60.6 769.5,60.7 771.4,60.9 773.4,61.2 775.3,61.6 777.2,62.2 779.0,62.9"/><polyline points="-101.9,85.6 -100.6,87.3 -99.2,88.8 -97.6,90.3 -96.0,91.7 -94.2,93.0 -92.4,94.1 -90.5,95.0 -88.5,95.9 -86.5,96.6 -84.4,97.1 -82.3,97.5 -80.2,97.7 -78.1,97.8 -75.9,97.7 -73.8,97.5 -71.7,97.1 -69.6,96.5 -67.6,95.8 -65.7,95.0 -65.2,96.0 -64.6,96.9 -64.0,97.9 -63.3,98.7 -62.5,99.5 -61.7,100.3 -60.8,101.0 -59.9,101.6 -58.9,102.1 -57.9,102.5 -56.8,102.9 -55.7,103.2 -54.6,103.3 -53.5,103.4 -52.4,103.4 -51.3,103.3 -50.2,103.2 -49.1,102.9 -48.0,102.5 -47.0,102.1 -46.0,101.6 -45.1,101.0 -44.2,100.3 -43.4,99.5 -42.6,98.7 -41.9,97.9 -41.3,96.9 -40.7,96.0 -40.2,95.0 -38.3,95.8 -36.3,96.5 -34.2,97.1 -32.1,97.5 -30.0,97.7 -27.8,97.8 -25.7,97.7 -23.6,97.5 -21.5,97.1 -19.4,96.6 -17.4,95.9 -15.4,95.0 -13.5,94.1 -11.7,93.0 -9.9,91.7 -8.3,90.3 -6.7,88.8 -5.3,87.3 -4.0,85.6 -2.7,87.3 -1.3,88.8 0.3,90.3 1.9,91.7 3.6,93.0 5.5,94.1 7.4,95.0 9.3,95.9 11.4,96.6 13.4,97.1 15.5,97.5 17.7,97.7 19.8,97.8 21.9,97.7 24.1,97.5 26.2,97.1 28.2,96.5 30.3,95.8 32.2,95.0 32.7,96.0 33.2,96.9 33.9,97.9 34.6,98.7 35.3,99.5 36.2,100.3 37.1,101.0 38.0,101.6 39.0,102.1 40.0,102.5 41.1,102.9 42.2,103.2 43.3,103.3 44.4,103.4 45.5,103.4 46.6,103.3 47.7,103.2 48.8,102.9 49.8,102.5 50.9,102.1 51.9,101.6 52.8,101.0 53.7,100.3 54.5,99.5 55.3,98.7 56.0,97.9 56.6,96.9 57.2,96.0 57.6,95.0 59.6,95.8 61.6,96.5 63.7,97.1 65.8,97.5 67.9,97.7 70.0,97.8 72.2,97.7 74.3,97.5 76.4,97.1 78.5,96.6 80.5,95.9 82.5,95.0 84.4,94.1 86.2,93.0 88.0,91.7 89.6,90.3 91.1,88.8 92.6,87.3 93.9,85.6 95.2,87.3 96.6,88.8 98.1,90.3 99.8,91.7 101.5,93.0 103.3,94.1 105.2,95.0 107.2,95.9 109.2,96.6 111.3,97.1 113.4,97.5 115.5,97.7 117.7,97.8 119.8,97.7 121.9,97.5 124.0,97.1 126.1,96.5 128.1,95.8 130.1,95.0 130.6,96.0 131.1,96.9 131.7,97.9 132.4,98.7 133.2,99.5 134.0,100.3 134.9,101.0 135.9,101.6 136.9,102.1 137.9,102.5 138.9,102.9 140.0,103.2 141.1,103.3 142.2,103.4 143.4,103.4 144.5,103.3 145.6,103.2 146.7,102.9 147.7,102.5 148.7,102.1 149.7,101.6 150.7,101.0 151.6,100.3 152.4,99.5 153.2,98.7 153.9,97.9 154.5,96.9 155.0,96.0 155.5,95.0 157.5,95.8 159.5,96.5 161.6,97.1 163.7,97.5 165.8,97.7 167.9,97.8 170.1,97.7 172.2,97.5 174.3,97.1 176.4,96.6 178.4,95.9 180.4,95.0 182.3,94.1 184.1,93.0 185.8,91.7 187.5,90.3 189.0,88.8 190.4,87.3 191.7,85.6 193.0,87.3 194.5,88.8 196.0,90.3 197.6,91.7 199.4,93.0 201.2,94.1 203.1,95.0 205.1,95.9 207.1,96.6 209.2,97.1 211.3,97.5 213.4,97.7 215.6,97.8 217.7,97.7 219.8,97.5 221.9,97.1 224.0,96.5 226.0,95.8 228.0,95.0 228.4,96.0 229.0,96.9 229.6,97.9 230.3,98.7 231.1,99.5 231.9,100.3 232.8,101.0 233.7,101.6 234.7,102.1 235.8,102.5 236.8,102.9 237.9,103.2 239.0,103.3 240.1,103.4 241.2,103.4 242.3,103.3 243.4,103.2 244.5,102.9 245.6,102.5 246.6,102.1 247.6,101.6 248.5,101.0 249.4,100.3 250.3,99.5 251.0,98.7 251.7,97.9 252.4,96.9 252.9,96.0 253.4,95.0 255.3,95.8 257.4,96.5 259.4,97.1 261.5,97.5 263.7,97.7 265.8,97.8 267.9,97.7 270.1,97.5 272.2,97.1 274.2,96.6 276.3,95.9 278.2,95.0 280.1,94.1 282.0,93.0 283.7,91.7 285.3,90.3 286.9,88.8 288.3,87.3 289.6,85.6 290.9,87.3 292.3,88.8 293.9,90.3 295.5,91.7 297.3,93.0 299.1,94.1 301.0,95.0 303.0,95.9 305.0,96.6 307.1,97.1 309.2,97.5 311.3,97.7 313.4,97.8 315.6,97.7 317.7,97.5 319.8,97.1 321.9,96.5 323.9,95.8 325.8,95.0 326.3,96.0 326.9,96.9 327.5,97.9 328.2,98.7 329.0,99.5 329.8,100.3 330.7,101.0 331.6,101.6 332.6,102.1 333.6,102.5 334.7,102.9 335.8,103.2 336.9,103.3 338.0,103.4 339.1,103.4 340.2,103.3 341.3,103.2 342.4,102.9 343.5,102.5 344.5,102.1 345.5,101.6 346.4,101.0 347.3,100.3 348.1,99.5 348.9,98.7 349.6,97.9 350.2,96.9 350.8,96.0 351.3,95.0 353.2,95.8 355.2,96.5 357.3,97.1 359.4,97.5 361.5,97.7 363.7,97.8 365.8,97.7 367.9,97.5 370.0,97.1 372.1,96.6 374.1,95.9 376.1,95.0 378.0,94.1 379.8,93.0 381.6,91.7 383.2,90.3 384.8,88.8 386.2,87.3 387.5,85.6 388.8,87.3 390.2,88.8 391.8,90.3 393.4,91.7 395.1,93.0 397.0,94.1 398.9,95.0 400.8,95.9 402.9,96.6 404.9,97.1 407.0,97.5 409.2,97.7 411.3,97.8 413.4,97.7 415.6,97.5 417.7,97.1 419.7,96.5 421.8,95.8 423.7,95.0 424.2,96.0 424.7,96.9 425.4,97.9 426.1,98.7 426.8,99.5 427.7,100.3 428.6,101.0 429.5,101.6 430.5,102.1 431.5,102.5 432.6,102.9 433.7,103.2 434.8,103.3 435.9,103.4 437.0,103.4 438.1,103.3 439.2,103.2 440.3,102.9 441.3,102.5 442.4,102.1 443.4,101.6 444.3,101.0 445.2,100.3 446.0,99.5 446.8,98.7 447.5,97.9 448.1,96.9 448.7,96.0 449.1,95.0 451.1,95.8 453.1,96.5 455.2,97.1 457.3,97.5 459.4,97.7 461.5,97.8 463.7,97.7 465.8,97.5 467.9,97.1 470.0,96.6 472.0,95.9 474.0,95.0 475.9,94.1 477.7,93.0 479.5,91.7 481.1,90.3 482.6,88.8 484.1,87.3 485.4,85.6 486.7,87.3 488.1,88.8 489.6,90.3 491.3,91.7 493.0,93.0 494.8,94.1 496.7,95.0 498.7,95.9 500.7,96.6 502.8,97.1 504.9,97.5 507.0,97.7 509.2,97.8 511.3,97.7 513.4,97.5 515.5,97.1 517.6,96.5 519.6,95.8 521.6,95.0 522.1,96.0 522.6,96.9 523.2,97.9 523.9,98.7 524.7,99.5 525.5,100.3 526.4,101.0 527.4,101.6 528.4,102.1 529.4,102.5 530.4,102.9 531.5,103.2 532.6,103.3 533.7,103.4 534.9,103.4 536.0,103.3 537.1,103.2 538.2,102.9 539.2,102.5 540.2,102.1 541.2,101.6 542.2,101.0 543.1,100.3 543.9,99.5 544.7,98.7 545.4,97.9 546.0,96.9 546.5,96.0 547.0,95.0 549.0,95.8 551.0,96.5 553.1,97.1 555.2,97.5 557.3,97.7 559.4,97.8 561.6,97.7 563.7,97.5 565.8,97.1 567.9,96.6 569.9,95.9 571.9,95.0 573.8,94.1 575.6,93.0 577.3,91.7 579.0,90.3 580.5,88.8 581.9,87.3 583.2,85.6 584.5,87.3 586.0,88.8 587.5,90.3 589.1,91.7 590.9,93.0 592.7,94.1 594.6,95.0 596.6,95.9 598.6,96.6 600.7,97.1 602.8,97.5 604.9,97.7 607.1,97.8 609.2,97.7 611.3,97.5 613.4,97.1 615.5,96.5 617.5,95.8 619.5,95.0 619.9,96.0 620.5,96.9 621.1,97.9 621.8,98.7 622.6,99.5 623.4,100.3 624.3,101.0 625.2,101.6 626.2,102.1 627.3,102.5 628.3,102.9 629.4,103.2 630.5,103.3 631.6,103.4 632.7,103.4 633.8,103.3 634.9,103.2 636.0,102.9 637.1,102.5 638.1,102.1 639.1,101.6 640.0,101.0 640.9,100.3 641.8,99.5 642.5,98.7 643.2,97.9 643.9,96.9 644.4,96.0 644.9,95.0 646.8,95.8 648.9,96.5 650.9,97.1 653.0,97.5 655.2,97.7 657.3,97.8 659.4,97.7 661.6,97.5 663.7,97.1 665.7,96.6 667.8,95.9 669.7,95.0 671.6,94.1 673.5,93.0 675.2,91.7 676.8,90.3 678.4,88.8 679.8,87.3 681.1,85.6 682.4,87.3 683.8,88.8 685.4,90.3 687.0,91.7 688.8,93.0 690.6,94.1 692.5,95.0 694.5,95.9 696.5,96.6 698.6,97.1 700.7,97.5 702.8,97.7 704.9,97.8 707.1,97.7 709.2,97.5 711.3,97.1 713.4,96.5 715.4,95.8 717.3,95.0 717.8,96.0 718.4,96.9 719.0,97.9 719.7,98.7 720.5,99.5 721.3,100.3 722.2,101.0 723.1,101.6 724.1,102.1 725.1,102.5 726.2,102.9 727.3,103.2 728.4,103.3 729.5,103.4 730.6,103.4 731.7,103.3 732.8,103.2 733.9,102.9 735.0,102.5 736.0,102.1 737.0,101.6 737.9,101.0 738.8,100.3 739.6,99.5 740.4,98.7 741.1,97.9 741.7,96.9 742.3,96.0 742.8,95.0 744.7,95.8 746.7,96.5 748.8,97.1 750.9,97.5 753.0,97.7 755.2,97.8 757.3,97.7 759.4,97.5 761.5,97.1 763.6,96.6 765.6,95.9 767.6,95.0 769.5,94.1 771.3,93.0 773.1,91.7 774.7,90.3 776.3,88.8 777.7,87.3 779.0,85.6"/></g><g clip-path="url(#axc)" fill="none" stroke="#000" stroke-width="1.8" stroke-linejoin="round"><polyline points="-102.9,393.1 -101.1,392.4 -99.2,391.8 -97.3,391.3 -95.4,391.0 -93.4,390.8 -91.4,390.8 -89.5,390.9 -87.5,391.1 -85.6,391.5 -83.7,392.0 -81.8,392.6 -80.0,393.4 -78.2,394.2 -76.5,395.2 -74.9,396.4 -73.4,397.6 -71.9,398.9 -70.6,400.4 -69.3,401.9 -69.4,400.2 -69.2,398.4 -68.9,396.7 -68.3,395.0 -67.6,393.4 -66.7,392.0 -65.6,390.6 -64.4,389.3 -63.0,388.2 -61.5,387.3 -60.0,386.5 -58.3,385.9 -56.6,385.5 -54.9,385.3 -53.1,385.3 -51.4,385.5 -49.7,385.9 -48.0,386.5 -46.5,387.3 -45.0,388.2 -43.6,389.3 -42.4,390.6 -41.3,392.0 -40.4,393.4 -39.7,395.0 -39.1,396.7 -38.8,398.4 -38.6,400.2 -38.7,401.9 -37.4,400.4 -36.1,398.9 -34.6,397.6 -33.1,396.4 -31.5,395.2 -29.8,394.2 -28.0,393.4 -26.2,392.6 -24.3,392.0 -22.4,391.5 -20.5,391.1 -18.5,390.9 -16.6,390.8 -14.6,390.8 -12.6,391.0 -10.7,391.3 -8.8,391.8 -6.9,392.4 -5.1,393.1 -3.2,392.4 -1.4,391.8 0.6,391.3 2.5,391.0 4.5,390.8 6.4,390.8 8.4,390.9 10.4,391.1 12.3,391.5 14.2,392.0 16.1,392.6 17.9,393.4 19.6,394.2 21.3,395.2 23.0,396.4 24.5,397.6 25.9,398.9 27.3,400.4 28.5,401.9 28.5,400.2 28.6,398.4 29.0,396.7 29.6,395.0 30.3,393.4 31.2,392.0 32.3,390.6 33.5,389.3 34.9,388.2 36.3,387.3 37.9,386.5 39.6,385.9 41.3,385.5 43.0,385.3 44.8,385.3 46.5,385.5 48.2,385.9 49.8,386.5 51.4,387.3 52.9,388.2 54.2,389.3 55.5,390.6 56.5,392.0 57.5,393.4 58.2,395.0 58.7,396.7 59.1,398.4 59.3,400.2 59.2,401.9 60.5,400.4 61.8,398.9 63.3,397.6 64.8,396.4 66.4,395.2 68.1,394.2 69.9,393.4 71.7,392.6 73.5,392.0 75.5,391.5 77.4,391.1 79.3,390.9 81.3,390.8 83.3,390.8 85.2,391.0 87.2,391.3 89.1,391.8 91.0,392.4 92.8,393.1 94.6,392.4 96.5,391.8 98.4,391.3 100.4,391.0 102.3,390.8 104.3,390.8 106.3,390.9 108.2,391.1 110.2,391.5 112.1,392.0 113.9,392.6 115.8,393.4 117.5,394.2 119.2,395.2 120.8,396.4 122.4,397.6 123.8,398.9 125.2,400.4 126.4,401.9 126.4,400.2 126.5,398.4 126.9,396.7 127.4,395.0 128.2,393.4 129.1,392.0 130.2,390.6 131.4,389.3 132.7,388.2 134.2,387.3 135.8,386.5 137.4,385.9 139.1,385.5 140.9,385.3 142.6,385.3 144.4,385.5 146.1,385.9 147.7,386.5 149.3,387.3 150.8,388.2 152.1,389.3 153.3,390.6 154.4,392.0 155.3,393.4 156.1,395.0 156.6,396.7 157.0,398.4 157.1,400.2 157.1,401.9 158.3,400.4 159.7,398.9 161.1,397.6 162.7,396.4 164.3,395.2 166.0,394.2 167.7,393.4 169.6,392.6 171.4,392.0 173.3,391.5 175.3,391.1 177.2,390.9 179.2,390.8 181.2,390.8 183.1,391.0 185.1,391.3 187.0,391.8 188.9,392.4 190.7,393.1 192.5,392.4 194.4,391.8 196.3,391.3 198.3,391.0 200.2,390.8 202.2,390.8 204.2,390.9 206.1,391.1 208.0,391.5 210.0,392.0 211.8,392.6 213.6,393.4 215.4,394.2 217.1,395.2 218.7,396.4 220.2,397.6 221.7,398.9 223.0,400.4 224.3,401.9 224.2,400.2 224.4,398.4 224.8,396.7 225.3,395.0 226.0,393.4 227.0,392.0 228.0,390.6 229.3,389.3 230.6,388.2 232.1,387.3 233.7,386.5 235.3,385.9 237.0,385.5 238.7,385.3 240.5,385.3 242.2,385.5 243.9,385.9 245.6,386.5 247.2,387.3 248.6,388.2 250.0,389.3 251.2,390.6 252.3,392.0 253.2,393.4 253.9,395.0 254.5,396.7 254.9,398.4 255.0,400.2 255.0,401.9 256.2,400.4 257.6,398.9 259.0,397.6 260.5,396.4 262.2,395.2 263.9,394.2 265.6,393.4 267.4,392.6 269.3,392.0 271.2,391.5 273.1,391.1 275.1,390.9 277.1,390.8 279.0,390.8 281.0,391.0 282.9,391.3 284.9,391.8 286.7,392.4 288.6,393.1 290.4,392.4 292.3,391.8 294.2,391.3 296.1,391.0 298.1,390.8 300.1,390.8 302.0,390.9 304.0,391.1 305.9,391.5 307.8,392.0 309.7,392.6 311.5,393.4 313.3,394.2 315.0,395.2 316.6,396.4 318.1,397.6 319.6,398.9 320.9,400.4 322.2,401.9 322.1,400.2 322.3,398.4 322.6,396.7 323.2,395.0 323.9,393.4 324.8,392.0 325.9,390.6 327.1,389.3 328.5,388.2 330.0,387.3 331.5,386.5 333.2,385.9 334.9,385.5 336.6,385.3 338.4,385.3 340.1,385.5 341.8,385.9 343.5,386.5 345.0,387.3 346.5,388.2 347.9,389.3 349.1,390.6 350.2,392.0 351.1,393.4 351.8,395.0 352.4,396.7 352.7,398.4 352.9,400.2 352.8,401.9 354.1,400.4 355.4,398.9 356.9,397.6 358.4,396.4 360.0,395.2 361.7,394.2 363.5,393.4 365.3,392.6 367.2,392.0 369.1,391.5 371.0,391.1 373.0,390.9 374.9,390.8 376.9,390.8 378.9,391.0 380.8,391.3 382.7,391.8 384.6,392.4 386.4,393.1 388.3,392.4 390.1,391.8 392.1,391.3 394.0,391.0 396.0,390.8 397.9,390.8 399.9,390.9 401.9,391.1 403.8,391.5 405.7,392.0 407.6,392.6 409.4,393.4 411.1,394.2 412.8,395.2 414.5,396.4 416.0,397.6 417.4,398.9 418.8,400.4 420.0,401.9 420.0,400.2 420.1,398.4 420.5,396.7 421.1,395.0 421.8,393.4 422.7,392.0 423.8,390.6 425.0,389.3 426.4,388.2 427.8,387.3 429.4,386.5 431.1,385.9 432.8,385.5 434.5,385.3 436.3,385.3 438.0,385.5 439.7,385.9 441.3,386.5 442.9,387.3 444.4,388.2 445.7,389.3 447.0,390.6 448.0,392.0 449.0,393.4 449.7,395.0 450.2,396.7 450.6,398.4 450.8,400.2 450.7,401.9 452.0,400.4 453.3,398.9 454.8,397.6 456.3,396.4 457.9,395.2 459.6,394.2 461.4,393.4 463.2,392.6 465.0,392.0 467.0,391.5 468.9,391.1 470.8,390.9 472.8,390.8 474.8,390.8 476.7,391.0 478.7,391.3 480.6,391.8 482.5,392.4 484.3,393.1 486.1,392.4 488.0,391.8 489.9,391.3 491.9,391.0 493.8,390.8 495.8,390.8 497.8,390.9 499.7,391.1 501.7,391.5 503.6,392.0 505.4,392.6 507.3,393.4 509.0,394.2 510.7,395.2 512.3,396.4 513.9,397.6 515.3,398.9 516.7,400.4 517.9,401.9 517.9,400.2 518.0,398.4 518.4,396.7 518.9,395.0 519.7,393.4 520.6,392.0 521.7,390.6 522.9,389.3 524.2,388.2 525.7,387.3 527.3,386.5 528.9,385.9 530.6,385.5 532.4,385.3 534.1,385.3 535.9,385.5 537.6,385.9 539.2,386.5 540.8,387.3 542.3,388.2 543.6,389.3 544.8,390.6 545.9,392.0 546.8,393.4 547.6,395.0 548.1,396.7 548.5,398.4 548.6,400.2 548.6,401.9 549.8,400.4 551.2,398.9 552.6,397.6 554.2,396.4 555.8,395.2 557.5,394.2 559.2,393.4 561.1,392.6 562.9,392.0 564.8,391.5 566.8,391.1 568.7,390.9 570.7,390.8 572.7,390.8 574.6,391.0 576.6,391.3 578.5,391.8 580.4,392.4 582.2,393.1 584.0,392.4 585.9,391.8 587.8,391.3 589.8,391.0 591.7,390.8 593.7,390.8 595.7,390.9 597.6,391.1 599.5,391.5 601.5,392.0 603.3,392.6 605.1,393.4 606.9,394.2 608.6,395.2 610.2,396.4 611.7,397.6 613.2,398.9 614.5,400.4 615.8,401.9 615.7,400.2 615.9,398.4 616.3,396.7 616.8,395.0 617.5,393.4 618.5,392.0 619.5,390.6 620.8,389.3 622.1,388.2 623.6,387.3 625.2,386.5 626.8,385.9 628.5,385.5 630.2,385.3 632.0,385.3 633.7,385.5 635.4,385.9 637.1,386.5 638.7,387.3 640.1,388.2 641.5,389.3 642.7,390.6 643.8,392.0 644.7,393.4 645.4,395.0 646.0,396.7 646.4,398.4 646.5,400.2 646.5,401.9 647.7,400.4 649.1,398.9 650.5,397.6 652.0,396.4 653.7,395.2 655.4,394.2 657.1,393.4 658.9,392.6 660.8,392.0 662.7,391.5 664.6,391.1 666.6,390.9 668.6,390.8 670.5,390.8 672.5,391.0 674.4,391.3 676.4,391.8 678.2,392.4 680.1,393.1 681.9,392.4 683.8,391.8 685.7,391.3 687.6,391.0 689.6,390.8 691.6,390.8 693.5,390.9 695.5,391.1 697.4,391.5 699.3,392.0 701.2,392.6 703.0,393.4 704.8,394.2 706.5,395.2 708.1,396.4 709.6,397.6 711.1,398.9 712.4,400.4 713.7,401.9 713.6,400.2 713.8,398.4 714.1,396.7 714.7,395.0 715.4,393.4 716.3,392.0 717.4,390.6 718.6,389.3 720.0,388.2 721.5,387.3 723.0,386.5 724.7,385.9 726.4,385.5 728.1,385.3 729.9,385.3 731.6,385.5 733.3,385.9 735.0,386.5 736.5,387.3 738.0,388.2 739.4,389.3 740.6,390.6 741.7,392.0 742.6,393.4 743.3,395.0 743.9,396.7 744.2,398.4 744.4,400.2 744.3,401.9 745.6,400.4 746.9,398.9 748.4,397.6 749.9,396.4 751.5,395.2 753.2,394.2 755.0,393.4 756.8,392.6 758.7,392.0 760.6,391.5 762.5,391.1 764.5,390.9 766.4,390.8 768.4,390.8 770.4,391.0 772.3,391.3 774.2,391.8 776.1,392.4 777.9,393.1"/><polyline points="-102.9,415.7 -101.6,417.4 -100.2,419.0 -98.7,420.5 -97.0,421.9 -95.3,423.1 -93.5,424.2 -91.6,425.2 -89.6,426.0 -87.6,426.7 -85.5,427.3 -83.4,427.6 -81.3,427.9 -79.1,427.9 -77.0,427.9 -74.9,427.6 -72.8,427.2 -70.7,426.7 -68.7,426.0 -66.7,425.1 -66.2,426.1 -65.7,427.1 -65.1,428.0 -64.4,428.9 -63.6,429.7 -62.8,430.4 -61.9,431.1 -60.9,431.7 -59.9,432.2 -58.9,432.7 -57.9,433.0 -56.8,433.3 -55.7,433.5 -54.6,433.6 -53.4,433.6 -52.3,433.5 -51.2,433.3 -50.1,433.0 -49.1,432.7 -48.1,432.2 -47.1,431.7 -46.1,431.1 -45.2,430.4 -44.4,429.7 -43.6,428.9 -42.9,428.0 -42.3,427.1 -41.8,426.1 -41.3,425.1 -39.3,426.0 -37.3,426.7 -35.2,427.2 -33.1,427.6 -31.0,427.9 -28.9,427.9 -26.7,427.9 -24.6,427.6 -22.5,427.3 -20.4,426.7 -18.4,426.0 -16.4,425.2 -14.5,424.2 -12.7,423.1 -11.0,421.9 -9.3,420.5 -7.8,419.0 -6.4,417.4 -5.1,415.7 -3.8,417.4 -2.3,419.0 -0.8,420.5 0.8,421.9 2.6,423.1 4.4,424.2 6.3,425.2 8.3,426.0 10.3,426.7 12.4,427.3 14.5,427.6 16.6,427.9 18.8,427.9 20.9,427.9 23.0,427.6 25.1,427.2 27.2,426.7 29.2,426.0 31.2,425.1 31.6,426.1 32.2,427.1 32.8,428.0 33.5,428.9 34.3,429.7 35.1,430.4 36.0,431.1 36.9,431.7 37.9,432.2 39.0,432.7 40.0,433.0 41.1,433.3 42.2,433.5 43.3,433.6 44.4,433.6 45.5,433.5 46.6,433.3 47.7,433.0 48.8,432.7 49.8,432.2 50.8,431.7 51.7,431.1 52.6,430.4 53.5,429.7 54.2,428.9 54.9,428.0 55.6,427.1 56.1,426.1 56.6,425.1 58.5,426.0 60.6,426.7 62.6,427.2 64.7,427.6 66.9,427.9 69.0,427.9 71.1,427.9 73.3,427.6 75.4,427.3 77.4,426.7 79.5,426.0 81.4,425.2 83.3,424.2 85.2,423.1 86.9,421.9 88.5,420.5 90.1,419.0 91.5,417.4 92.8,415.7 94.1,417.4 95.5,419.0 97.1,420.5 98.7,421.9 100.5,423.1 102.3,424.2 104.2,425.2 106.2,426.0 108.2,426.7 110.3,427.3 112.4,427.6 114.5,427.9 116.6,427.9 118.8,427.9 120.9,427.6 123.0,427.2 125.1,426.7 127.1,426.0 129.0,425.1 129.5,426.1 130.1,427.1 130.7,428.0 131.4,428.9 132.2,429.7 133.0,430.4 133.9,431.1 134.8,431.7 135.8,432.2 136.8,432.7 137.9,433.0 139.0,433.3 140.1,433.5 141.2,433.6 142.3,433.6 143.4,433.5 144.5,433.3 145.6,433.0 146.7,432.7 147.7,432.2 148.7,431.7 149.6,431.1 150.5,430.4 151.3,429.7 152.1,428.9 152.8,428.0 153.4,427.1 154.0,426.1 154.5,425.1 156.4,426.0 158.4,426.7 160.5,427.2 162.6,427.6 164.7,427.9 166.9,427.9 169.0,427.9 171.1,427.6 173.2,427.3 175.3,426.7 177.3,426.0 179.3,425.2 181.2,424.2 183.0,423.1 184.8,421.9 186.4,420.5 188.0,419.0 189.4,417.4 190.7,415.7 192.0,417.4 193.4,419.0 195.0,420.5 196.6,421.9 198.3,423.1 200.2,424.2 202.1,425.2 204.0,426.0 206.1,426.7 208.1,427.3 210.2,427.6 212.4,427.9 214.5,427.9 216.6,427.9 218.8,427.6 220.9,427.2 222.9,426.7 225.0,426.0 226.9,425.1 227.4,426.1 227.9,427.1 228.6,428.0 229.3,428.9 230.0,429.7 230.9,430.4 231.8,431.1 232.7,431.7 233.7,432.2 234.7,432.7 235.8,433.0 236.9,433.3 238.0,433.5 239.1,433.6 240.2,433.6 241.3,433.5 242.4,433.3 243.5,433.0 244.5,432.7 245.6,432.2 246.6,431.7 247.5,431.1 248.4,430.4 249.2,429.7 250.0,428.9 250.7,428.0 251.3,427.1 251.9,426.1 252.3,425.1 254.3,426.0 256.3,426.7 258.4,427.2 260.5,427.6 262.6,427.9 264.7,427.9 266.9,427.9 269.0,427.6 271.1,427.3 273.2,426.7 275.2,426.0 277.2,425.2 279.1,424.2 280.9,423.1 282.7,421.9 284.3,420.5 285.8,419.0 287.3,417.4 288.6,415.7 289.9,417.4 291.3,419.0 292.8,420.5 294.5,421.9 296.2,423.1 298.0,424.2 299.9,425.2 301.9,426.0 303.9,426.7 306.0,427.3 308.1,427.6 310.2,427.9 312.4,427.9 314.5,427.9 316.6,427.6 318.7,427.2 320.8,426.7 322.8,426.0 324.8,425.1 325.3,426.1 325.8,427.1 326.4,428.0 327.1,428.9 327.9,429.7 328.7,430.4 329.6,431.1 330.6,431.7 331.6,432.2 332.6,432.7 333.6,433.0 334.7,433.3 335.8,433.5 336.9,433.6 338.1,433.6 339.2,433.5 340.3,433.3 341.4,433.0 342.4,432.7 343.4,432.2 344.4,431.7 345.4,431.1 346.3,430.4 347.1,429.7 347.9,428.9 348.6,428.0 349.2,427.1 349.7,426.1 350.2,425.1 352.2,426.0 354.2,426.7 356.3,427.2 358.4,427.6 360.5,427.9 362.6,427.9 364.8,427.9 366.9,427.6 369.0,427.3 371.1,426.7 373.1,426.0 375.1,425.2 377.0,424.2 378.8,423.1 380.5,421.9 382.2,420.5 383.7,419.0 385.1,417.4 386.4,415.7 387.7,417.4 389.2,419.0 390.7,420.5 392.3,421.9 394.1,423.1 395.9,424.2 397.8,425.2 399.8,426.0 401.8,426.7 403.9,427.3 406.0,427.6 408.1,427.9 410.3,427.9 412.4,427.9 414.5,427.6 416.6,427.2 418.7,426.7 420.7,426.0 422.7,425.1 423.1,426.1 423.7,427.1 424.3,428.0 425.0,428.9 425.8,429.7 426.6,430.4 427.5,431.1 428.4,431.7 429.4,432.2 430.5,432.7 431.5,433.0 432.6,433.3 433.7,433.5 434.8,433.6 435.9,433.6 437.0,433.5 438.1,433.3 439.2,433.0 440.3,432.7 441.3,432.2 442.3,431.7 443.2,431.1 444.1,430.4 445.0,429.7 445.7,428.9 446.4,428.0 447.1,427.1 447.6,426.1 448.1,425.1 450.0,426.0 452.1,426.7 454.1,427.2 456.2,427.6 458.4,427.9 460.5,427.9 462.6,427.9 464.8,427.6 466.9,427.3 468.9,426.7 471.0,426.0 472.9,425.2 474.8,424.2 476.7,423.1 478.4,421.9 480.0,420.5 481.6,419.0 483.0,417.4 484.3,415.7 485.6,417.4 487.0,419.0 488.6,420.5 490.2,421.9 492.0,423.1 493.8,424.2 495.7,425.2 497.7,426.0 499.7,426.7 501.8,427.3 503.9,427.6 506.0,427.9 508.1,427.9 510.3,427.9 512.4,427.6 514.5,427.2 516.6,426.7 518.6,426.0 520.5,425.1 521.0,426.1 521.6,427.1 522.2,428.0 522.9,428.9 523.7,429.7 524.5,430.4 525.4,431.1 526.3,431.7 527.3,432.2 528.3,432.7 529.4,433.0 530.5,433.3 531.6,433.5 532.7,433.6 533.8,433.6 534.9,433.5 536.0,433.3 537.1,433.0 538.2,432.7 539.2,432.2 540.2,431.7 541.1,431.1 542.0,430.4 542.8,429.7 543.6,428.9 544.3,428.0 544.9,427.1 545.5,426.1 546.0,425.1 547.9,426.0 549.9,426.7 552.0,427.2 554.1,427.6 556.2,427.9 558.4,427.9 560.5,427.9 562.6,427.6 564.7,427.3 566.8,426.7 568.8,426.0 570.8,425.2 572.7,424.2 574.5,423.1 576.3,421.9 577.9,420.5 579.5,419.0 580.9,417.4 582.2,415.7 583.5,417.4 584.9,419.0 586.5,420.5 588.1,421.9 589.8,423.1 591.7,424.2 593.6,425.2 595.5,426.0 597.6,426.7 599.6,427.3 601.7,427.6 603.9,427.9 606.0,427.9 608.1,427.9 610.3,427.6 612.4,427.2 614.4,426.7 616.5,426.0 618.4,425.1 618.9,426.1 619.4,427.1 620.1,428.0 620.8,428.9 621.5,429.7 622.4,430.4 623.3,431.1 624.2,431.7 625.2,432.2 626.2,432.7 627.3,433.0 628.4,433.3 629.5,433.5 630.6,433.6 631.7,433.6 632.8,433.5 633.9,433.3 635.0,433.0 636.0,432.7 637.1,432.2 638.1,431.7 639.0,431.1 639.9,430.4 640.7,429.7 641.5,428.9 642.2,428.0 642.8,427.1 643.4,426.1 643.8,425.1 645.8,426.0 647.8,426.7 649.9,427.2 652.0,427.6 654.1,427.9 656.2,427.9 658.4,427.9 660.5,427.6 662.6,427.3 664.7,426.7 666.7,426.0 668.7,425.2 670.6,424.2 672.4,423.1 674.2,421.9 675.8,420.5 677.3,419.0 678.8,417.4 680.1,415.7 681.4,417.4 682.8,419.0 684.3,420.5 686.0,421.9 687.7,423.1 689.5,424.2 691.4,425.2 693.4,426.0 695.4,426.7 697.5,427.3 699.6,427.6 701.7,427.9 703.9,427.9 706.0,427.9 708.1,427.6 710.2,427.2 712.3,426.7 714.3,426.0 716.3,425.1 716.8,426.1 717.3,427.1 717.9,428.0 718.6,428.9 719.4,429.7 720.2,430.4 721.1,431.1 722.1,431.7 723.1,432.2 724.1,432.7 725.1,433.0 726.2,433.3 727.3,433.5 728.4,433.6 729.6,433.6 730.7,433.5 731.8,433.3 732.9,433.0 733.9,432.7 734.9,432.2 735.9,431.7 736.9,431.1 737.8,430.4 738.6,429.7 739.4,428.9 740.1,428.0 740.7,427.1 741.2,426.1 741.7,425.1 743.7,426.0 745.7,426.7 747.8,427.2 749.9,427.6 752.0,427.9 754.1,427.9 756.3,427.9 758.4,427.6 760.5,427.3 762.6,426.7 764.6,426.0 766.6,425.2 768.5,424.2 770.3,423.1 772.0,421.9 773.7,420.5 775.2,419.0 776.6,417.4 777.9,415.7"/></g><line x1="310.4" y1="158.6" x2="310.4" y2="326.9" stroke="#808080" stroke-width="2.2"/><line x1="367.6" y1="158.6" x2="367.6" y2="326.9" stroke="#808080" stroke-width="2.2"/><g fill="none" stroke="#0000ff" stroke-width="3" stroke-linecap="butt"><line x1="174.5" y1="200.2" x2="242.1" y2="200.2"/><polyline points="183.2,192.2 174.8,200.2 183.2,208.2" stroke-linejoin="miter"/></g><g fill="none" stroke="#ff0000" stroke-width="3" stroke-linecap="butt"><line x1="435.1" y1="200.5" x2="502.7" y2="200.5"/><polyline points="494.5,192.5 502.9,200.5 494.5,208.5" stroke-linejoin="miter"/></g><g fill="none" stroke="#808080" stroke-width="2" stroke-linecap="butt"><line x1="441.8" y1="310.0" x2="381.5" y2="318.3"/><polyline points="388.3,313.4 380.6,318.4 388.9,321.1"/></g><g stroke="#000" fill="none"><rect x="77.7" y="14.1" width="522" height="130.6" stroke-width="1.4"/><path d="M94.01 144.7L94.01 138.4 M94.01 14.1L94.01 20.4 M175.57 144.7L175.57 138.4 M175.57 14.1L175.57 20.4 M257.14 144.7L257.14 138.4 M257.14 14.1L257.14 20.4 M338.7 144.7L338.7 138.4 M338.7 14.1L338.7 20.4 M420.26 144.7L420.26 138.4 M420.26 14.1L420.26 20.4 M501.82 144.7L501.82 138.4 M501.82 14.1L501.82 20.4 M583.39 144.7L583.39 138.4 M583.39 14.1L583.39 20.4 M77.7 120.18L84 120.18 M599.7 120.18L593.4 120.18 M77.7 79.4L84 79.4 M599.7 79.4L593.4 79.4 M77.7 38.62L84 38.62 M599.7 38.62L593.4 38.62" stroke-width="1.4"/><path d="M110.32 144.7L110.32 141.4 M110.32 14.1L110.32 17.4 M126.64 144.7L126.64 141.4 M126.64 14.1L126.64 17.4 M142.95 144.7L142.95 141.4 M142.95 14.1L142.95 17.4 M159.26 144.7L159.26 141.4 M159.26 14.1L159.26 17.4 M191.89 144.7L191.89 141.4 M191.89 14.1L191.89 17.4 M208.2 144.7L208.2 141.4 M208.2 14.1L208.2 17.4 M224.51 144.7L224.51 141.4 M224.51 14.1L224.51 17.4 M240.82 144.7L240.82 141.4 M240.82 14.1L240.82 17.4 M273.45 144.7L273.45 141.4 M273.45 14.1L273.45 17.4 M289.76 144.7L289.76 141.4 M289.76 14.1L289.76 17.4 M306.07 144.7L306.07 141.4 M306.07 14.1L306.07 17.4 M322.39 144.7L322.39 141.4 M322.39 14.1L322.39 17.4 M355.01 144.7L355.01 141.4 M355.01 14.1L355.01 17.4 M371.32 144.7L371.32 141.4 M371.32 14.1L371.32 17.4 M387.64 144.7L387.64 141.4 M387.64 14.1L387.64 17.4 M403.95 144.7L403.95 141.4 M403.95 14.1L403.95 17.4 M436.57 144.7L436.57 141.4 M436.57 14.1L436.57 17.4 M452.89 144.7L452.89 141.4 M452.89 14.1L452.89 17.4 M469.2 144.7L469.2 141.4 M469.2 14.1L469.2 17.4 M485.51 144.7L485.51 141.4 M485.51 14.1L485.51 17.4 M518.14 144.7L518.14 141.4 M518.14 14.1L518.14 17.4 M534.45 144.7L534.45 141.4 M534.45 14.1L534.45 17.4 M550.76 144.7L550.76 141.4 M550.76 14.1L550.76 17.4 M567.08 144.7L567.08 141.4 M567.08 14.1L567.08 17.4 M77.7 136.49L81 136.49 M599.7 136.49L596.4 136.49 M77.7 128.34L81 128.34 M599.7 128.34L596.4 128.34 M77.7 112.02L81 112.02 M599.7 112.02L596.4 112.02 M77.7 103.87L81 103.87 M599.7 103.87L596.4 103.87 M77.7 95.71L81 95.71 M599.7 95.71L596.4 95.71 M77.7 87.56L81 87.56 M599.7 87.56L596.4 87.56 M77.7 71.24L81 71.24 M599.7 71.24L596.4 71.24 M77.7 63.09L81 63.09 M599.7 63.09L596.4 63.09 M77.7 54.93L81 54.93 M599.7 54.93L596.4 54.93 M77.7 46.77L81 46.77 M599.7 46.77L596.4 46.77 M77.7 30.46L81 30.46 M599.7 30.46L596.4 30.46 M77.7 22.31L81 22.31 M599.7 22.31L596.4 22.31" stroke-width="1.0"/></g><g stroke="#000" fill="none"><rect x="77.7" y="341.1" width="522" height="130.6" stroke-width="1.4"/><path d="M94.01 471.7L94.01 465.4 M94.01 341.1L94.01 347.4 M175.57 471.7L175.57 465.4 M175.57 341.1L175.57 347.4 M257.14 471.7L257.14 465.4 M257.14 341.1L257.14 347.4 M338.7 471.7L338.7 465.4 M338.7 341.1L338.7 347.4 M420.26 471.7L420.26 465.4 M420.26 341.1L420.26 347.4 M501.82 471.7L501.82 465.4 M501.82 341.1L501.82 347.4 M583.39 471.7L583.39 465.4 M583.39 341.1L583.39 347.4 M77.7 447.18L84 447.18 M599.7 447.18L593.4 447.18 M77.7 406.4L84 406.4 M599.7 406.4L593.4 406.4 M77.7 365.62L84 365.62 M599.7 365.62L593.4 365.62" stroke-width="1.4"/><path d="M110.32 471.7L110.32 468.4 M110.32 341.1L110.32 344.4 M126.64 471.7L126.64 468.4 M126.64 341.1L126.64 344.4 M142.95 471.7L142.95 468.4 M142.95 341.1L142.95 344.4 M159.26 471.7L159.26 468.4 M159.26 341.1L159.26 344.4 M191.89 471.7L191.89 468.4 M191.89 341.1L191.89 344.4 M208.2 471.7L208.2 468.4 M208.2 341.1L208.2 344.4 M224.51 471.7L224.51 468.4 M224.51 341.1L224.51 344.4 M240.82 471.7L240.82 468.4 M240.82 341.1L240.82 344.4 M273.45 471.7L273.45 468.4 M273.45 341.1L273.45 344.4 M289.76 471.7L289.76 468.4 M289.76 341.1L289.76 344.4 M306.07 471.7L306.07 468.4 M306.07 341.1L306.07 344.4 M322.39 471.7L322.39 468.4 M322.39 341.1L322.39 344.4 M355.01 471.7L355.01 468.4 M355.01 341.1L355.01 344.4 M371.32 471.7L371.32 468.4 M371.32 341.1L371.32 344.4 M387.64 471.7L387.64 468.4 M387.64 341.1L387.64 344.4 M403.95 471.7L403.95 468.4 M403.95 341.1L403.95 344.4 M436.57 471.7L436.57 468.4 M436.57 341.1L436.57 344.4 M452.89 471.7L452.89 468.4 M452.89 341.1L452.89 344.4 M469.2 471.7L469.2 468.4 M469.2 341.1L469.2 344.4 M485.51 471.7L485.51 468.4 M485.51 341.1L485.51 344.4 M518.14 471.7L518.14 468.4 M518.14 341.1L518.14 344.4 M534.45 471.7L534.45 468.4 M534.45 341.1L534.45 344.4 M550.76 471.7L550.76 468.4 M550.76 341.1L550.76 344.4 M567.08 471.7L567.08 468.4 M567.08 341.1L567.08 344.4 M77.7 463.49L81 463.49 M599.7 463.49L596.4 463.49 M77.7 455.34L81 455.34 M599.7 455.34L596.4 455.34 M77.7 439.02L81 439.02 M599.7 439.02L596.4 439.02 M77.7 430.87L81 430.87 M599.7 430.87L596.4 430.87 M77.7 422.71L81 422.71 M599.7 422.71L596.4 422.71 M77.7 414.56L81 414.56 M599.7 414.56L596.4 414.56 M77.7 398.24L81 398.24 M599.7 398.24L596.4 398.24 M77.7 390.09L81 390.09 M599.7 390.09L596.4 390.09 M77.7 381.93L81 381.93 M599.7 381.93L596.4 381.93 M77.7 373.77L81 373.77 M599.7 373.77L596.4 373.77 M77.7 357.46L81 357.46 M599.7 357.46L596.4 357.46 M77.7 349.31L81 349.31 M599.7 349.31L596.4 349.31" stroke-width="1.0"/></g><g stroke="#000" fill="none"><rect x="77.7" y="158.6" width="522" height="168.3" stroke-width="1.4"/><path d="M94.01 326.9L94.01 320.6 M94.01 158.6L94.01 164.9 M175.57 326.9L175.57 320.6 M175.57 158.6L175.57 164.9 M257.14 326.9L257.14 320.6 M257.14 158.6L257.14 164.9 M338.7 326.9L338.7 320.6 M338.7 158.6L338.7 164.9 M420.26 326.9L420.26 320.6 M420.26 158.6L420.26 164.9 M501.82 326.9L501.82 320.6 M501.82 158.6L501.82 164.9 M583.39 326.9L583.39 320.6 M583.39 158.6L583.39 164.9 M77.7 295.5L84 295.5 M599.7 295.5L593.4 295.5 M77.7 235.4L84 235.4 M599.7 235.4L593.4 235.4 M77.7 175.3L84 175.3 M599.7 175.3L593.4 175.3" stroke-width="1.4"/><path d="M110.32 326.9L110.32 323.6 M110.32 158.6L110.32 161.9 M126.64 326.9L126.64 323.6 M126.64 158.6L126.64 161.9 M142.95 326.9L142.95 323.6 M142.95 158.6L142.95 161.9 M159.26 326.9L159.26 323.6 M159.26 158.6L159.26 161.9 M191.89 326.9L191.89 323.6 M191.89 158.6L191.89 161.9 M208.2 326.9L208.2 323.6 M208.2 158.6L208.2 161.9 M224.51 326.9L224.51 323.6 M224.51 158.6L224.51 161.9 M240.82 326.9L240.82 323.6 M240.82 158.6L240.82 161.9 M273.45 326.9L273.45 323.6 M273.45 158.6L273.45 161.9 M289.76 326.9L289.76 323.6 M289.76 158.6L289.76 161.9 M306.07 326.9L306.07 323.6 M306.07 158.6L306.07 161.9 M322.39 326.9L322.39 323.6 M322.39 158.6L322.39 161.9 M355.01 326.9L355.01 323.6 M355.01 158.6L355.01 161.9 M371.32 326.9L371.32 323.6 M371.32 158.6L371.32 161.9 M387.64 326.9L387.64 323.6 M387.64 158.6L387.64 161.9 M403.95 326.9L403.95 323.6 M403.95 158.6L403.95 161.9 M436.57 326.9L436.57 323.6 M436.57 158.6L436.57 161.9 M452.89 326.9L452.89 323.6 M452.89 158.6L452.89 161.9 M469.2 326.9L469.2 323.6 M469.2 158.6L469.2 161.9 M485.51 326.9L485.51 323.6 M485.51 158.6L485.51 161.9 M518.14 326.9L518.14 323.6 M518.14 158.6L518.14 161.9 M534.45 326.9L534.45 323.6 M534.45 158.6L534.45 161.9 M550.76 326.9L550.76 323.6 M550.76 158.6L550.76 161.9 M567.08 326.9L567.08 323.6 M567.08 158.6L567.08 161.9 M77.7 319.54L81 319.54 M599.7 319.54L596.4 319.54 M77.7 307.52L81 307.52 M599.7 307.52L596.4 307.52 M77.7 283.48L81 283.48 M599.7 283.48L596.4 283.48 M77.7 271.46L81 271.46 M599.7 271.46L596.4 271.46 M77.7 259.44L81 259.44 M599.7 259.44L596.4 259.44 M77.7 247.42L81 247.42 M599.7 247.42L596.4 247.42 M77.7 223.38L81 223.38 M599.7 223.38L596.4 223.38 M77.7 211.36L81 211.36 M599.7 211.36L596.4 211.36 M77.7 199.34L81 199.34 M599.7 199.34L596.4 199.34 M77.7 187.32L81 187.32 M599.7 187.32L596.4 187.32 M77.7 163.28L81 163.28 M599.7 163.28L596.4 163.28" stroke-width="1.0"/></g><rect x="615.6" y="51" width="9.8" height="170" fill="url(#cb1)" stroke="#000" stroke-width="1.4"/><path d="M625.4 51H631.2M625.4 136H631.2M625.4 221H631.2" stroke="#000" stroke-width="1.4"/><rect x="615.6" y="322.8" width="9.8" height="168.1" fill="url(#cb2)" stroke="#000" stroke-width="1.4"/><path d="M625.4 322.8H631.2M625.4 406.85H631.2M625.4 490.9H631.2" stroke="#000" stroke-width="1.4"/><g fill="#000" stroke="#000" stroke-width="0.25" style="opacity:0.999"><text x="9.9" y="11.2" text-anchor="start" font-size="20" font-weight="bold" stroke="#000" stroke-width="0.5">a</text><text x="4.6" y="155.5" text-anchor="start" font-size="20" font-weight="bold" stroke="#000" stroke-width="0.5">b</text><text x="7.8" y="348.3" text-anchor="start" font-size="20" font-weight="bold" stroke="#000" stroke-width="0.5">c</text><text x="87" y="35.3" text-anchor="start" font-size="18">EXP</text><text x="88.7" y="182.9" text-anchor="start" font-size="18">EXP</text><text x="86.3" y="363" text-anchor="start" font-size="18" letter-spacing="0.6">SIM</text><text x="474.8" y="38.6" text-anchor="start" font-size="18"><tspan font-style="italic">E</tspan><tspan dx="3">=</tspan><tspan dx="3.4">1.5318</tspan><tspan dx="3.6">eV</tspan></text><text x="71.3" y="45.42" text-anchor="end" font-size="18" letter-spacing="0.35">2.5</text><text x="71.3" y="372.42" text-anchor="end" font-size="18" letter-spacing="0.35">2.5</text><text x="71.3" y="86.2" text-anchor="end" font-size="18" letter-spacing="0.35">0.0</text><text x="71.3" y="413.2" text-anchor="end" font-size="18" letter-spacing="0.35">0.0</text><text x="71.3" y="126.98" text-anchor="end" font-size="18" letter-spacing="0.35">2.5</text><rect x="32.9" y="120.53" width="11" height="1.3" stroke="none"/><text x="71.3" y="453.98" text-anchor="end" font-size="18" letter-spacing="0.35">2.5</text><rect x="32.9" y="447.53" width="11" height="1.3" stroke="none"/><text x="71.3" y="182.7" text-anchor="end" font-size="18" letter-spacing="0.55">1.533</text><text x="71.3" y="242.8" text-anchor="end" font-size="18" letter-spacing="0.55">1.532</text><text x="71.3" y="302.9" text-anchor="end" font-size="18" letter-spacing="0.55">1.531</text><rect x="77.61" y="484.55" width="10.8" height="1.3" stroke="none"/><text x="101.61" y="490.8" text-anchor="middle" font-size="18" letter-spacing="0.5">15</text><rect x="159.17" y="484.55" width="10.8" height="1.3" stroke="none"/><text x="183.17" y="490.8" text-anchor="middle" font-size="18" letter-spacing="0.5">10</text><rect x="246.24" y="484.55" width="10.8" height="1.3" stroke="none"/><text x="264.74" y="490.8" text-anchor="middle" font-size="18" letter-spacing="0.5">5</text><text x="338.7" y="490.8" text-anchor="middle" font-size="18" letter-spacing="0.5">0</text><text x="420.26" y="490.8" text-anchor="middle" font-size="18" letter-spacing="0.5">5</text><text x="501.82" y="490.8" text-anchor="middle" font-size="18" letter-spacing="0.5">10</text><text x="583.39" y="490.8" text-anchor="middle" font-size="18" letter-spacing="0.5">15</text><text x="337.2" y="513.2" text-anchor="middle" font-size="18" letter-spacing="0.4"><tspan font-style="italic">x</tspan> (µm)</text><text transform="translate(19.3 80.3) rotate(-90)" text-anchor="middle" font-size="18" letter-spacing="0.6"><tspan font-style="italic">y</tspan> (µm)</text><text transform="translate(19.3 407.3) rotate(-90)" text-anchor="middle" font-size="18" letter-spacing="0.6"><tspan font-style="italic">y</tspan> (µm)</text><text transform="translate(14.3 243.8) rotate(-90)" text-anchor="middle" font-size="18"><tspan font-style="italic">E</tspan> (eV)</text><text x="637" y="58.6" text-anchor="start" font-size="18">1</text><text x="637" y="143.3" text-anchor="start" font-size="18">0</text><text x="649.6" y="228" text-anchor="start" font-size="18">1</text><rect x="637.8" y="221.55" width="10.8" height="1.3" stroke="none"/><text x="637" y="330.4" text-anchor="start" font-size="18">1</text><text x="637" y="414.15" text-anchor="start" font-size="18">0</text><text x="649.6" y="497.9" text-anchor="start" font-size="18">1</text><rect x="637.8" y="491.45" width="10.8" height="1.3" stroke="none"/><g transform="translate(680 211.6) rotate(-90)"><text><tspan x="0.2" y="0" font-size="16.6" font-style="italic">A</tspan><tspan x="11.6" y="3.9" font-size="11.6" font-style="italic">σ</tspan><tspan x="20.8" y="6.9" font-size="13" font-style="normal">+</tspan><tspan x="50.6" y="0" font-size="16.6" font-style="italic">A</tspan><tspan x="61.8" y="3.9" font-size="11.6" font-style="italic">σ</tspan><tspan x="86.0" y="0" font-size="16.6" textLength="61.6" lengthAdjust="spacingAndGlyphs">(arb.u.)</tspan></text><rect x="35.2" y="-5.6" width="11.3" height="1.3" stroke="none"/><rect x="73.1" y="3.3" width="4.9" height="1.2" stroke="none"/></g><g transform="translate(680 481.5) rotate(-90)"><text><tspan x="0.2" y="0" font-size="16.6" font-style="italic">A</tspan><tspan x="11.6" y="3.9" font-size="11.6" font-style="italic">σ</tspan><tspan x="20.8" y="6.9" font-size="13" font-style="normal">+</tspan><tspan x="50.6" y="0" font-size="16.6" font-style="italic">A</tspan><tspan x="61.8" y="3.9" font-size="11.6" font-style="italic">σ</tspan><tspan x="86.0" y="0" font-size="16.6" textLength="61.6" lengthAdjust="spacingAndGlyphs">(arb.u.)</tspan></text><rect x="35.2" y="-5.6" width="11.3" height="1.3" stroke="none"/><rect x="73.1" y="3.3" width="4.9" height="1.2" stroke="none"/></g><text x="211" y="187.9" text-anchor="start" font-size="18" fill="#0000ff" stroke="#0000ff"><tspan font-style="italic">σ</tspan></text><rect x="225.3" y="185.8" width="7.2" height="1.3" fill="#0000ff" stroke="none"/><text x="439.2" y="188" text-anchor="start" font-size="18" fill="#ff0000" stroke="#ff0000"><tspan font-style="italic">σ</tspan><tspan font-size="14.5" dx="3" dy="3">+</tspan></text><path d="M98.0 290.8 C97.6 288.2 95.3 287.9 94.5 290.4 C93.8 293 93.4 300 92.9 306 C92.5 310.6 90.9 311.8 89.3 311.2 C88.6 310.9 88.3 310.4 88.1 309.8" fill="none" stroke="#000" stroke-width="1.8"/><text x="101.6" y="292.7" text-anchor="start" font-size="13" letter-spacing="0.3">1µm</text><text x="98.8" y="316.6" text-anchor="start" font-size="13" letter-spacing="0.6">−1µm</text><text x="133.6" y="307.6" text-anchor="start" font-size="18"><tspan font-style="italic">A</tspan>(<tspan font-style="italic">x</tspan>, <tspan font-style="italic">y</tspan>, <tspan font-style="italic">E</tspan>)<tspan font-style="italic">dx</tspan></text><text x="509.8" y="296.8" text-anchor="middle" font-size="18" fill="#8a8a8a" stroke="#8a8a8a" stroke-width="0.3" letter-spacing="0.45">Size of the</text><text x="510" y="314.7" text-anchor="middle" font-size="18" fill="#8a8a8a" stroke="#8a8a8a" stroke-width="0.3" letter-spacing="0.55">excitation spot</text></g></svg></body></html>
